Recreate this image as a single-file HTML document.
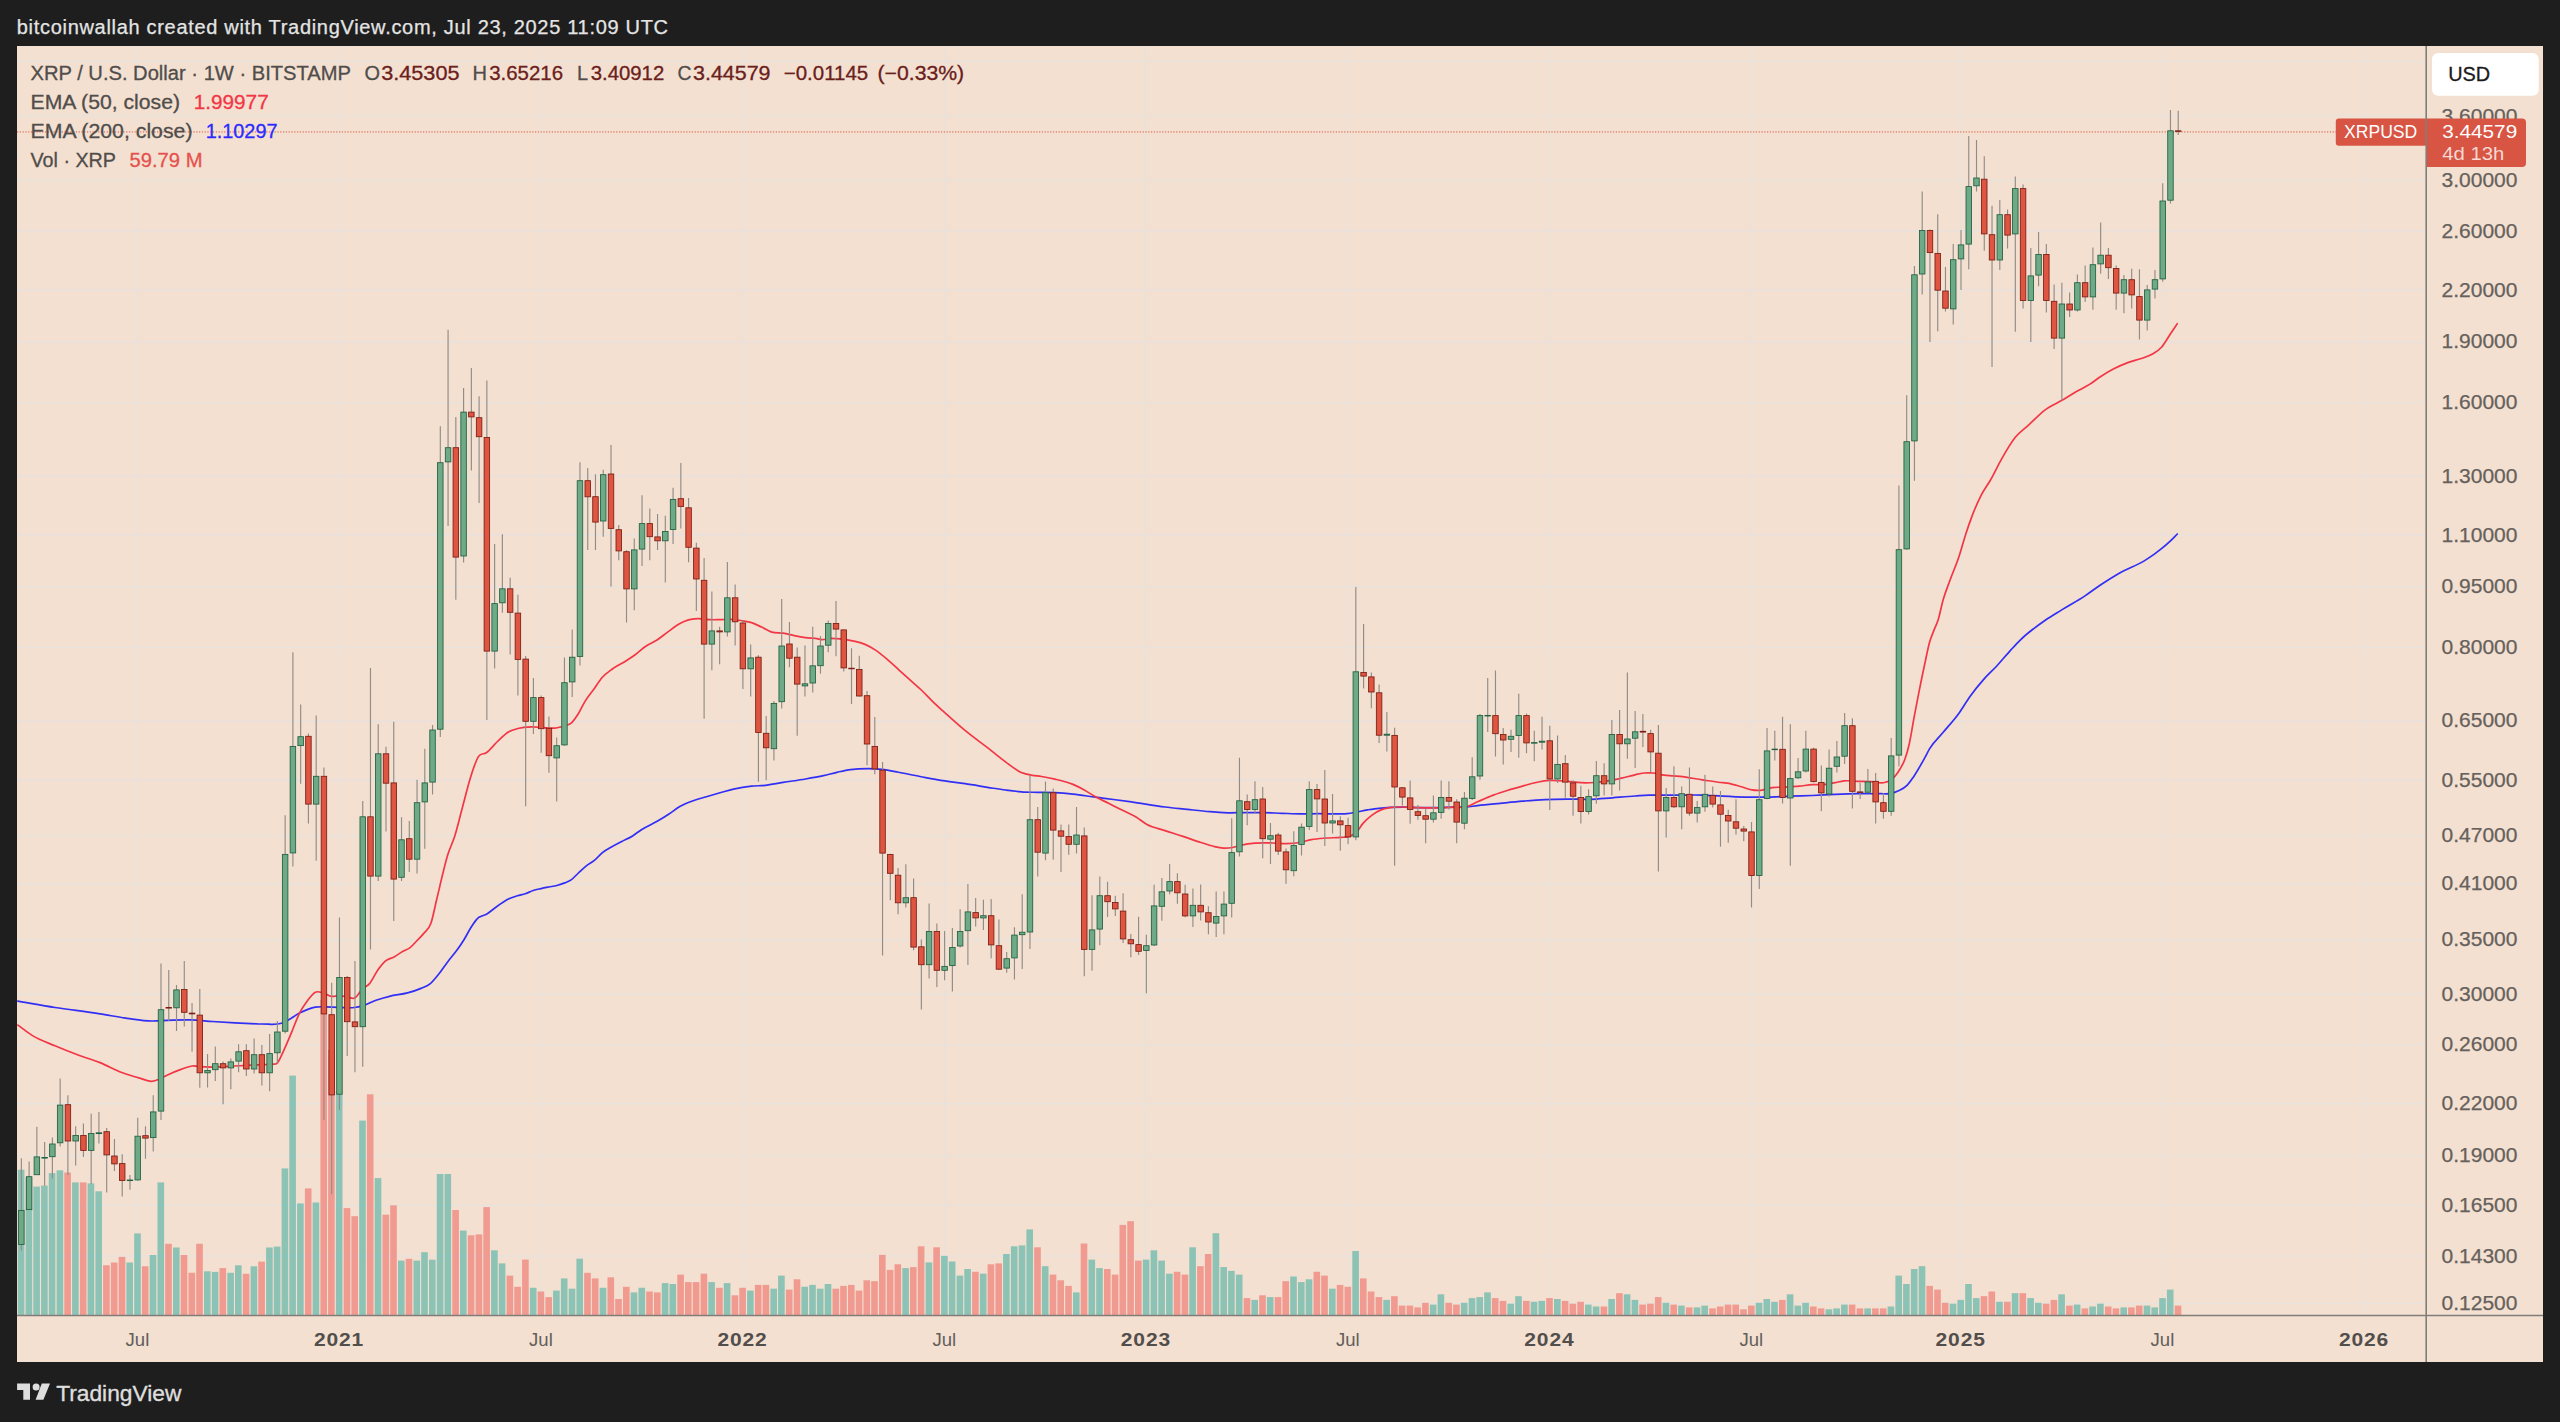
<!DOCTYPE html><html><head><meta charset="utf-8"><title>XRPUSD chart</title><style>html,body{margin:0;padding:0;background:#1e1e1e}body{width:2560px;height:1422px;position:relative;overflow:hidden}</style></head><body><svg width="2560" height="1422" viewBox="0 0 2560 1422" style="display:block;position:absolute;left:0;top:0">
<rect x="0" y="0" width="2560" height="1422" fill="#1e1e1e"/>
<rect x="17" y="46" width="2526" height="1316" fill="#f3e0d1"/>
<g stroke="#e9e2dc" stroke-width="1.5" fill="none">
<path d="M17 61.4H2426.2"/>
<path d="M17 115.6H2426.2"/>
<path d="M17 180.5H2426.2"/>
<path d="M17 231.0H2426.2"/>
<path d="M17 290.1H2426.2"/>
<path d="M17 341.9H2426.2"/>
<path d="M17 402.6H2426.2"/>
<path d="M17 476.0H2426.2"/>
<path d="M17 535.0H2426.2"/>
<path d="M17 586.8H2426.2"/>
<path d="M17 647.6H2426.2"/>
<path d="M17 720.9H2426.2"/>
<path d="M17 780.0H2426.2"/>
<path d="M17 835.5H2426.2"/>
<path d="M17 883.8H2426.2"/>
<path d="M17 939.7H2426.2"/>
<path d="M17 994.2H2426.2"/>
<path d="M17 1044.8H2426.2"/>
<path d="M17 1103.8H2426.2"/>
<path d="M17 1155.6H2426.2"/>
<path d="M17 1205.5H2426.2"/>
<path d="M17 1256.0H2426.2"/>
<path d="M17 1303.6H2426.2"/>
<path d="M137.5 46V1315.5"/>
<path d="M339.2 46V1315.5"/>
<path d="M540.9 46V1315.5"/>
<path d="M742.6 46V1315.5"/>
<path d="M944.4 46V1315.5"/>
<path d="M1146.1 46V1315.5"/>
<path d="M1347.8 46V1315.5"/>
<path d="M1549.5 46V1315.5"/>
<path d="M1751.3 46V1315.5"/>
<path d="M1960.7 46V1315.5"/>
<path d="M2162.5 46V1315.5"/>
<path d="M2364.2 46V1315.5"/>
</g>
<g>
<rect x="17.8" y="1169.7" width="6.6" height="145.3" fill="rgba(38,166,154,0.5)"/>
<rect x="25.6" y="1177.2" width="6.6" height="137.8" fill="rgba(38,166,154,0.5)"/>
<rect x="33.3" y="1186.6" width="6.6" height="128.4" fill="rgba(38,166,154,0.5)"/>
<rect x="41.1" y="1185.6" width="6.6" height="129.4" fill="rgba(38,166,154,0.5)"/>
<rect x="48.8" y="1173.1" width="6.6" height="141.9" fill="rgba(38,166,154,0.5)"/>
<rect x="56.6" y="1170.3" width="6.6" height="144.7" fill="rgba(38,166,154,0.5)"/>
<rect x="64.3" y="1172.5" width="6.6" height="142.5" fill="rgba(239,83,80,0.5)"/>
<rect x="72.1" y="1182.4" width="6.6" height="132.6" fill="rgba(38,166,154,0.5)"/>
<rect x="79.9" y="1182.4" width="6.6" height="132.6" fill="rgba(239,83,80,0.5)"/>
<rect x="87.6" y="1183.4" width="6.6" height="131.6" fill="rgba(38,166,154,0.5)"/>
<rect x="95.4" y="1191.3" width="6.6" height="123.7" fill="rgba(38,166,154,0.5)"/>
<rect x="103.1" y="1265.3" width="6.6" height="49.7" fill="rgba(239,83,80,0.5)"/>
<rect x="110.9" y="1262.5" width="6.6" height="52.5" fill="rgba(239,83,80,0.5)"/>
<rect x="118.7" y="1256.9" width="6.6" height="58.1" fill="rgba(239,83,80,0.5)"/>
<rect x="126.4" y="1262.5" width="6.6" height="52.5" fill="rgba(38,166,154,0.5)"/>
<rect x="134.2" y="1233.4" width="6.6" height="81.6" fill="rgba(38,166,154,0.5)"/>
<rect x="141.9" y="1266.3" width="6.6" height="48.7" fill="rgba(239,83,80,0.5)"/>
<rect x="149.7" y="1255.0" width="6.6" height="60.0" fill="rgba(38,166,154,0.5)"/>
<rect x="157.5" y="1182.4" width="6.6" height="132.6" fill="rgba(38,166,154,0.5)"/>
<rect x="165.2" y="1243.8" width="6.6" height="71.2" fill="rgba(239,83,80,0.5)"/>
<rect x="173.0" y="1247.5" width="6.6" height="67.5" fill="rgba(38,166,154,0.5)"/>
<rect x="180.7" y="1255.0" width="6.6" height="60.0" fill="rgba(239,83,80,0.5)"/>
<rect x="188.5" y="1272.8" width="6.6" height="42.2" fill="rgba(239,83,80,0.5)"/>
<rect x="196.2" y="1243.8" width="6.6" height="71.2" fill="rgba(239,83,80,0.5)"/>
<rect x="204.0" y="1271.3" width="6.6" height="43.7" fill="rgba(38,166,154,0.5)"/>
<rect x="211.8" y="1271.9" width="6.6" height="43.1" fill="rgba(38,166,154,0.5)"/>
<rect x="219.5" y="1268.1" width="6.6" height="46.9" fill="rgba(239,83,80,0.5)"/>
<rect x="227.3" y="1272.8" width="6.6" height="42.2" fill="rgba(38,166,154,0.5)"/>
<rect x="235.0" y="1265.3" width="6.6" height="49.7" fill="rgba(38,166,154,0.5)"/>
<rect x="242.8" y="1273.8" width="6.6" height="41.2" fill="rgba(239,83,80,0.5)"/>
<rect x="250.6" y="1266.3" width="6.6" height="48.7" fill="rgba(38,166,154,0.5)"/>
<rect x="258.3" y="1261.6" width="6.6" height="53.4" fill="rgba(239,83,80,0.5)"/>
<rect x="266.1" y="1247.5" width="6.6" height="67.5" fill="rgba(38,166,154,0.5)"/>
<rect x="273.8" y="1246.6" width="6.6" height="68.4" fill="rgba(38,166,154,0.5)"/>
<rect x="281.6" y="1168.4" width="6.6" height="146.6" fill="rgba(38,166,154,0.5)"/>
<rect x="289.3" y="1075.6" width="6.6" height="239.4" fill="rgba(38,166,154,0.5)"/>
<rect x="297.1" y="1203.4" width="6.6" height="111.6" fill="rgba(38,166,154,0.5)"/>
<rect x="304.9" y="1188.4" width="6.6" height="126.6" fill="rgba(239,83,80,0.5)"/>
<rect x="312.6" y="1202.5" width="6.6" height="112.5" fill="rgba(38,166,154,0.5)"/>
<rect x="320.4" y="1000.0" width="6.6" height="315.0" fill="rgba(239,83,80,0.5)"/>
<rect x="328.1" y="1050.0" width="6.6" height="265.0" fill="rgba(239,83,80,0.5)"/>
<rect x="335.9" y="1091.0" width="6.6" height="224.0" fill="rgba(38,166,154,0.5)"/>
<rect x="343.7" y="1208.1" width="6.6" height="106.9" fill="rgba(239,83,80,0.5)"/>
<rect x="351.4" y="1216.2" width="6.6" height="98.8" fill="rgba(239,83,80,0.5)"/>
<rect x="359.2" y="1120.6" width="6.6" height="194.4" fill="rgba(38,166,154,0.5)"/>
<rect x="366.9" y="1094.3" width="6.6" height="220.7" fill="rgba(239,83,80,0.5)"/>
<rect x="374.7" y="1178.1" width="6.6" height="136.9" fill="rgba(38,166,154,0.5)"/>
<rect x="382.5" y="1214.7" width="6.6" height="100.3" fill="rgba(239,83,80,0.5)"/>
<rect x="390.2" y="1205.3" width="6.6" height="109.7" fill="rgba(239,83,80,0.5)"/>
<rect x="398.0" y="1260.6" width="6.6" height="54.4" fill="rgba(38,166,154,0.5)"/>
<rect x="405.7" y="1258.8" width="6.6" height="56.2" fill="rgba(239,83,80,0.5)"/>
<rect x="413.5" y="1260.6" width="6.6" height="54.4" fill="rgba(38,166,154,0.5)"/>
<rect x="421.2" y="1252.2" width="6.6" height="62.8" fill="rgba(38,166,154,0.5)"/>
<rect x="429.0" y="1259.7" width="6.6" height="55.3" fill="rgba(38,166,154,0.5)"/>
<rect x="436.8" y="1174.0" width="6.6" height="141.0" fill="rgba(38,166,154,0.5)"/>
<rect x="444.5" y="1174.0" width="6.6" height="141.0" fill="rgba(38,166,154,0.5)"/>
<rect x="452.3" y="1210.0" width="6.6" height="105.0" fill="rgba(239,83,80,0.5)"/>
<rect x="460.0" y="1230.6" width="6.6" height="84.4" fill="rgba(38,166,154,0.5)"/>
<rect x="467.8" y="1235.3" width="6.6" height="79.7" fill="rgba(239,83,80,0.5)"/>
<rect x="475.6" y="1234.4" width="6.6" height="80.6" fill="rgba(239,83,80,0.5)"/>
<rect x="483.3" y="1207.1" width="6.6" height="107.9" fill="rgba(239,83,80,0.5)"/>
<rect x="491.1" y="1250.3" width="6.6" height="64.7" fill="rgba(38,166,154,0.5)"/>
<rect x="498.8" y="1263.4" width="6.6" height="51.6" fill="rgba(38,166,154,0.5)"/>
<rect x="506.6" y="1275.6" width="6.6" height="39.4" fill="rgba(239,83,80,0.5)"/>
<rect x="514.3" y="1286.8" width="6.6" height="28.2" fill="rgba(239,83,80,0.5)"/>
<rect x="522.1" y="1259.6" width="6.6" height="55.4" fill="rgba(239,83,80,0.5)"/>
<rect x="529.9" y="1287.8" width="6.6" height="27.2" fill="rgba(38,166,154,0.5)"/>
<rect x="537.6" y="1291.5" width="6.6" height="23.5" fill="rgba(239,83,80,0.5)"/>
<rect x="545.4" y="1297.1" width="6.6" height="17.9" fill="rgba(239,83,80,0.5)"/>
<rect x="553.1" y="1290.6" width="6.6" height="24.4" fill="rgba(38,166,154,0.5)"/>
<rect x="560.9" y="1278.4" width="6.6" height="36.6" fill="rgba(38,166,154,0.5)"/>
<rect x="568.7" y="1288.7" width="6.6" height="26.3" fill="rgba(38,166,154,0.5)"/>
<rect x="576.4" y="1258.7" width="6.6" height="56.3" fill="rgba(38,166,154,0.5)"/>
<rect x="584.2" y="1272.8" width="6.6" height="42.2" fill="rgba(239,83,80,0.5)"/>
<rect x="591.9" y="1278.4" width="6.6" height="36.6" fill="rgba(239,83,80,0.5)"/>
<rect x="599.7" y="1287.8" width="6.6" height="27.2" fill="rgba(38,166,154,0.5)"/>
<rect x="607.5" y="1277.3" width="6.6" height="37.7" fill="rgba(239,83,80,0.5)"/>
<rect x="615.2" y="1299.0" width="6.6" height="16.0" fill="rgba(239,83,80,0.5)"/>
<rect x="623.0" y="1286.8" width="6.6" height="28.2" fill="rgba(239,83,80,0.5)"/>
<rect x="630.7" y="1292.4" width="6.6" height="22.6" fill="rgba(38,166,154,0.5)"/>
<rect x="638.5" y="1287.8" width="6.6" height="27.2" fill="rgba(38,166,154,0.5)"/>
<rect x="646.2" y="1291.5" width="6.6" height="23.5" fill="rgba(239,83,80,0.5)"/>
<rect x="654.0" y="1292.4" width="6.6" height="22.6" fill="rgba(239,83,80,0.5)"/>
<rect x="661.8" y="1283.1" width="6.6" height="31.9" fill="rgba(38,166,154,0.5)"/>
<rect x="669.5" y="1284.0" width="6.6" height="31.0" fill="rgba(38,166,154,0.5)"/>
<rect x="677.3" y="1274.6" width="6.6" height="40.4" fill="rgba(239,83,80,0.5)"/>
<rect x="685.0" y="1282.1" width="6.6" height="32.9" fill="rgba(239,83,80,0.5)"/>
<rect x="692.8" y="1282.1" width="6.6" height="32.9" fill="rgba(239,83,80,0.5)"/>
<rect x="700.6" y="1273.7" width="6.6" height="41.3" fill="rgba(239,83,80,0.5)"/>
<rect x="708.3" y="1282.1" width="6.6" height="32.9" fill="rgba(38,166,154,0.5)"/>
<rect x="716.1" y="1287.8" width="6.6" height="27.2" fill="rgba(239,83,80,0.5)"/>
<rect x="723.8" y="1283.1" width="6.6" height="31.9" fill="rgba(38,166,154,0.5)"/>
<rect x="731.6" y="1295.3" width="6.6" height="19.7" fill="rgba(239,83,80,0.5)"/>
<rect x="739.3" y="1287.8" width="6.6" height="27.2" fill="rgba(239,83,80,0.5)"/>
<rect x="747.1" y="1290.6" width="6.6" height="24.4" fill="rgba(38,166,154,0.5)"/>
<rect x="754.9" y="1284.9" width="6.6" height="30.1" fill="rgba(239,83,80,0.5)"/>
<rect x="762.6" y="1284.9" width="6.6" height="30.1" fill="rgba(239,83,80,0.5)"/>
<rect x="770.4" y="1288.7" width="6.6" height="26.3" fill="rgba(38,166,154,0.5)"/>
<rect x="778.1" y="1275.6" width="6.6" height="39.4" fill="rgba(38,166,154,0.5)"/>
<rect x="785.9" y="1289.6" width="6.6" height="25.4" fill="rgba(239,83,80,0.5)"/>
<rect x="793.7" y="1279.3" width="6.6" height="35.7" fill="rgba(239,83,80,0.5)"/>
<rect x="801.4" y="1286.8" width="6.6" height="28.2" fill="rgba(38,166,154,0.5)"/>
<rect x="809.2" y="1284.9" width="6.6" height="30.1" fill="rgba(38,166,154,0.5)"/>
<rect x="816.9" y="1288.7" width="6.6" height="26.3" fill="rgba(38,166,154,0.5)"/>
<rect x="824.7" y="1284.0" width="6.6" height="31.0" fill="rgba(38,166,154,0.5)"/>
<rect x="832.5" y="1288.7" width="6.6" height="26.3" fill="rgba(239,83,80,0.5)"/>
<rect x="840.2" y="1285.9" width="6.6" height="29.1" fill="rgba(239,83,80,0.5)"/>
<rect x="848.0" y="1284.9" width="6.6" height="30.1" fill="rgba(239,83,80,0.5)"/>
<rect x="855.7" y="1290.6" width="6.6" height="24.4" fill="rgba(239,83,80,0.5)"/>
<rect x="863.5" y="1280.3" width="6.6" height="34.7" fill="rgba(239,83,80,0.5)"/>
<rect x="871.2" y="1281.2" width="6.6" height="33.8" fill="rgba(239,83,80,0.5)"/>
<rect x="879.0" y="1254.9" width="6.6" height="60.1" fill="rgba(239,83,80,0.5)"/>
<rect x="886.8" y="1269.9" width="6.6" height="45.1" fill="rgba(239,83,80,0.5)"/>
<rect x="894.5" y="1264.3" width="6.6" height="50.7" fill="rgba(239,83,80,0.5)"/>
<rect x="902.3" y="1268.1" width="6.6" height="46.9" fill="rgba(38,166,154,0.5)"/>
<rect x="910.0" y="1267.1" width="6.6" height="47.9" fill="rgba(239,83,80,0.5)"/>
<rect x="917.8" y="1246.3" width="6.6" height="68.7" fill="rgba(239,83,80,0.5)"/>
<rect x="925.6" y="1262.4" width="6.6" height="52.6" fill="rgba(38,166,154,0.5)"/>
<rect x="933.3" y="1247.3" width="6.6" height="67.7" fill="rgba(239,83,80,0.5)"/>
<rect x="941.1" y="1255.9" width="6.6" height="59.1" fill="rgba(38,166,154,0.5)"/>
<rect x="948.8" y="1261.5" width="6.6" height="53.5" fill="rgba(38,166,154,0.5)"/>
<rect x="956.6" y="1275.6" width="6.6" height="39.4" fill="rgba(38,166,154,0.5)"/>
<rect x="964.3" y="1269.0" width="6.6" height="46.0" fill="rgba(38,166,154,0.5)"/>
<rect x="972.1" y="1271.8" width="6.6" height="43.2" fill="rgba(239,83,80,0.5)"/>
<rect x="979.9" y="1273.7" width="6.6" height="41.3" fill="rgba(38,166,154,0.5)"/>
<rect x="987.6" y="1264.3" width="6.6" height="50.7" fill="rgba(239,83,80,0.5)"/>
<rect x="995.4" y="1263.4" width="6.6" height="51.6" fill="rgba(239,83,80,0.5)"/>
<rect x="1003.1" y="1254.0" width="6.6" height="61.0" fill="rgba(38,166,154,0.5)"/>
<rect x="1010.9" y="1246.3" width="6.6" height="68.7" fill="rgba(38,166,154,0.5)"/>
<rect x="1018.7" y="1245.4" width="6.6" height="69.6" fill="rgba(38,166,154,0.5)"/>
<rect x="1026.4" y="1229.4" width="6.6" height="85.6" fill="rgba(38,166,154,0.5)"/>
<rect x="1034.2" y="1247.3" width="6.6" height="67.7" fill="rgba(239,83,80,0.5)"/>
<rect x="1041.9" y="1266.2" width="6.6" height="48.8" fill="rgba(38,166,154,0.5)"/>
<rect x="1049.7" y="1274.6" width="6.6" height="40.4" fill="rgba(239,83,80,0.5)"/>
<rect x="1057.4" y="1280.3" width="6.6" height="34.7" fill="rgba(239,83,80,0.5)"/>
<rect x="1065.2" y="1285.9" width="6.6" height="29.1" fill="rgba(239,83,80,0.5)"/>
<rect x="1073.0" y="1292.4" width="6.6" height="22.6" fill="rgba(38,166,154,0.5)"/>
<rect x="1080.7" y="1243.5" width="6.6" height="71.5" fill="rgba(239,83,80,0.5)"/>
<rect x="1088.5" y="1259.6" width="6.6" height="55.4" fill="rgba(38,166,154,0.5)"/>
<rect x="1096.2" y="1268.1" width="6.6" height="46.9" fill="rgba(38,166,154,0.5)"/>
<rect x="1104.0" y="1269.0" width="6.6" height="46.0" fill="rgba(239,83,80,0.5)"/>
<rect x="1111.8" y="1274.6" width="6.6" height="40.4" fill="rgba(239,83,80,0.5)"/>
<rect x="1119.5" y="1224.9" width="6.6" height="90.1" fill="rgba(239,83,80,0.5)"/>
<rect x="1127.3" y="1221.2" width="6.6" height="93.8" fill="rgba(239,83,80,0.5)"/>
<rect x="1135.0" y="1260.6" width="6.6" height="54.4" fill="rgba(239,83,80,0.5)"/>
<rect x="1142.8" y="1259.6" width="6.6" height="55.4" fill="rgba(38,166,154,0.5)"/>
<rect x="1150.6" y="1250.3" width="6.6" height="64.7" fill="rgba(38,166,154,0.5)"/>
<rect x="1158.3" y="1260.6" width="6.6" height="54.4" fill="rgba(38,166,154,0.5)"/>
<rect x="1166.1" y="1273.7" width="6.6" height="41.3" fill="rgba(38,166,154,0.5)"/>
<rect x="1173.8" y="1271.8" width="6.6" height="43.2" fill="rgba(239,83,80,0.5)"/>
<rect x="1181.6" y="1274.6" width="6.6" height="40.4" fill="rgba(239,83,80,0.5)"/>
<rect x="1189.3" y="1247.3" width="6.6" height="67.7" fill="rgba(38,166,154,0.5)"/>
<rect x="1197.1" y="1266.2" width="6.6" height="48.8" fill="rgba(239,83,80,0.5)"/>
<rect x="1204.9" y="1254.0" width="6.6" height="61.0" fill="rgba(239,83,80,0.5)"/>
<rect x="1212.6" y="1233.2" width="6.6" height="81.8" fill="rgba(38,166,154,0.5)"/>
<rect x="1220.4" y="1267.1" width="6.6" height="47.9" fill="rgba(38,166,154,0.5)"/>
<rect x="1228.1" y="1270.9" width="6.6" height="44.1" fill="rgba(38,166,154,0.5)"/>
<rect x="1235.9" y="1274.6" width="6.6" height="40.4" fill="rgba(38,166,154,0.5)"/>
<rect x="1243.7" y="1298.1" width="6.6" height="16.9" fill="rgba(239,83,80,0.5)"/>
<rect x="1251.4" y="1299.9" width="6.6" height="15.1" fill="rgba(38,166,154,0.5)"/>
<rect x="1259.2" y="1295.3" width="6.6" height="19.7" fill="rgba(239,83,80,0.5)"/>
<rect x="1266.9" y="1297.1" width="6.6" height="17.9" fill="rgba(38,166,154,0.5)"/>
<rect x="1274.7" y="1297.1" width="6.6" height="17.9" fill="rgba(239,83,80,0.5)"/>
<rect x="1282.4" y="1281.2" width="6.6" height="33.8" fill="rgba(239,83,80,0.5)"/>
<rect x="1290.2" y="1276.5" width="6.6" height="38.5" fill="rgba(38,166,154,0.5)"/>
<rect x="1298.0" y="1282.1" width="6.6" height="32.9" fill="rgba(38,166,154,0.5)"/>
<rect x="1305.7" y="1279.3" width="6.6" height="35.7" fill="rgba(38,166,154,0.5)"/>
<rect x="1313.5" y="1271.8" width="6.6" height="43.2" fill="rgba(239,83,80,0.5)"/>
<rect x="1321.2" y="1275.6" width="6.6" height="39.4" fill="rgba(239,83,80,0.5)"/>
<rect x="1329.0" y="1288.7" width="6.6" height="26.3" fill="rgba(38,166,154,0.5)"/>
<rect x="1336.8" y="1284.9" width="6.6" height="30.1" fill="rgba(239,83,80,0.5)"/>
<rect x="1344.5" y="1286.8" width="6.6" height="28.2" fill="rgba(239,83,80,0.5)"/>
<rect x="1352.3" y="1251.0" width="6.6" height="64.0" fill="rgba(38,166,154,0.5)"/>
<rect x="1360.0" y="1278.4" width="6.6" height="36.6" fill="rgba(239,83,80,0.5)"/>
<rect x="1367.8" y="1291.5" width="6.6" height="23.5" fill="rgba(239,83,80,0.5)"/>
<rect x="1375.6" y="1297.1" width="6.6" height="17.9" fill="rgba(239,83,80,0.5)"/>
<rect x="1383.3" y="1299.9" width="6.6" height="15.1" fill="rgba(38,166,154,0.5)"/>
<rect x="1391.1" y="1296.2" width="6.6" height="18.8" fill="rgba(239,83,80,0.5)"/>
<rect x="1398.8" y="1305.6" width="6.6" height="9.4" fill="rgba(239,83,80,0.5)"/>
<rect x="1406.6" y="1305.6" width="6.6" height="9.4" fill="rgba(239,83,80,0.5)"/>
<rect x="1414.3" y="1307.4" width="6.6" height="7.6" fill="rgba(239,83,80,0.5)"/>
<rect x="1422.1" y="1302.8" width="6.6" height="12.2" fill="rgba(239,83,80,0.5)"/>
<rect x="1429.9" y="1304.6" width="6.6" height="10.4" fill="rgba(38,166,154,0.5)"/>
<rect x="1437.6" y="1294.3" width="6.6" height="20.7" fill="rgba(38,166,154,0.5)"/>
<rect x="1445.4" y="1302.8" width="6.6" height="12.2" fill="rgba(239,83,80,0.5)"/>
<rect x="1453.1" y="1304.6" width="6.6" height="10.4" fill="rgba(239,83,80,0.5)"/>
<rect x="1460.9" y="1302.8" width="6.6" height="12.2" fill="rgba(38,166,154,0.5)"/>
<rect x="1468.7" y="1298.1" width="6.6" height="16.9" fill="rgba(38,166,154,0.5)"/>
<rect x="1476.4" y="1297.1" width="6.6" height="17.9" fill="rgba(38,166,154,0.5)"/>
<rect x="1484.2" y="1292.4" width="6.6" height="22.6" fill="rgba(38,166,154,0.5)"/>
<rect x="1491.9" y="1298.1" width="6.6" height="16.9" fill="rgba(239,83,80,0.5)"/>
<rect x="1499.7" y="1300.9" width="6.6" height="14.1" fill="rgba(239,83,80,0.5)"/>
<rect x="1507.4" y="1303.7" width="6.6" height="11.3" fill="rgba(38,166,154,0.5)"/>
<rect x="1515.2" y="1296.2" width="6.6" height="18.8" fill="rgba(38,166,154,0.5)"/>
<rect x="1523.0" y="1300.9" width="6.6" height="14.1" fill="rgba(239,83,80,0.5)"/>
<rect x="1530.7" y="1301.8" width="6.6" height="13.2" fill="rgba(38,166,154,0.5)"/>
<rect x="1538.5" y="1300.9" width="6.6" height="14.1" fill="rgba(38,166,154,0.5)"/>
<rect x="1546.2" y="1298.1" width="6.6" height="16.9" fill="rgba(239,83,80,0.5)"/>
<rect x="1554.0" y="1299.0" width="6.6" height="16.0" fill="rgba(38,166,154,0.5)"/>
<rect x="1561.8" y="1300.9" width="6.6" height="14.1" fill="rgba(239,83,80,0.5)"/>
<rect x="1569.5" y="1303.7" width="6.6" height="11.3" fill="rgba(239,83,80,0.5)"/>
<rect x="1577.3" y="1301.8" width="6.6" height="13.2" fill="rgba(239,83,80,0.5)"/>
<rect x="1585.0" y="1304.6" width="6.6" height="10.4" fill="rgba(38,166,154,0.5)"/>
<rect x="1592.8" y="1306.5" width="6.6" height="8.5" fill="rgba(38,166,154,0.5)"/>
<rect x="1600.6" y="1306.5" width="6.6" height="8.5" fill="rgba(239,83,80,0.5)"/>
<rect x="1608.3" y="1299.0" width="6.6" height="16.0" fill="rgba(38,166,154,0.5)"/>
<rect x="1616.1" y="1293.2" width="6.6" height="21.8" fill="rgba(239,83,80,0.5)"/>
<rect x="1623.8" y="1294.3" width="6.6" height="20.7" fill="rgba(38,166,154,0.5)"/>
<rect x="1631.6" y="1299.9" width="6.6" height="15.1" fill="rgba(38,166,154,0.5)"/>
<rect x="1639.3" y="1304.6" width="6.6" height="10.4" fill="rgba(239,83,80,0.5)"/>
<rect x="1647.1" y="1303.7" width="6.6" height="11.3" fill="rgba(239,83,80,0.5)"/>
<rect x="1654.9" y="1297.1" width="6.6" height="17.9" fill="rgba(239,83,80,0.5)"/>
<rect x="1662.6" y="1302.8" width="6.6" height="12.2" fill="rgba(38,166,154,0.5)"/>
<rect x="1670.4" y="1304.6" width="6.6" height="10.4" fill="rgba(239,83,80,0.5)"/>
<rect x="1678.1" y="1305.6" width="6.6" height="9.4" fill="rgba(38,166,154,0.5)"/>
<rect x="1685.9" y="1307.4" width="6.6" height="7.6" fill="rgba(239,83,80,0.5)"/>
<rect x="1693.7" y="1307.4" width="6.6" height="7.6" fill="rgba(38,166,154,0.5)"/>
<rect x="1701.4" y="1305.6" width="6.6" height="9.4" fill="rgba(38,166,154,0.5)"/>
<rect x="1709.2" y="1308.4" width="6.6" height="6.6" fill="rgba(239,83,80,0.5)"/>
<rect x="1716.9" y="1306.5" width="6.6" height="8.5" fill="rgba(239,83,80,0.5)"/>
<rect x="1724.7" y="1304.6" width="6.6" height="10.4" fill="rgba(239,83,80,0.5)"/>
<rect x="1732.4" y="1304.6" width="6.6" height="10.4" fill="rgba(239,83,80,0.5)"/>
<rect x="1740.2" y="1309.3" width="6.6" height="5.7" fill="rgba(239,83,80,0.5)"/>
<rect x="1748.0" y="1305.6" width="6.6" height="9.4" fill="rgba(239,83,80,0.5)"/>
<rect x="1755.7" y="1302.8" width="6.6" height="12.2" fill="rgba(38,166,154,0.5)"/>
<rect x="1763.5" y="1299.0" width="6.6" height="16.0" fill="rgba(38,166,154,0.5)"/>
<rect x="1771.2" y="1301.8" width="6.6" height="13.2" fill="rgba(38,166,154,0.5)"/>
<rect x="1779.0" y="1299.9" width="6.6" height="15.1" fill="rgba(239,83,80,0.5)"/>
<rect x="1786.8" y="1294.3" width="6.6" height="20.7" fill="rgba(38,166,154,0.5)"/>
<rect x="1794.5" y="1305.6" width="6.6" height="9.4" fill="rgba(38,166,154,0.5)"/>
<rect x="1802.3" y="1302.8" width="6.6" height="12.2" fill="rgba(38,166,154,0.5)"/>
<rect x="1810.0" y="1306.5" width="6.6" height="8.5" fill="rgba(239,83,80,0.5)"/>
<rect x="1817.8" y="1308.4" width="6.6" height="6.6" fill="rgba(239,83,80,0.5)"/>
<rect x="1825.6" y="1309.3" width="6.6" height="5.7" fill="rgba(38,166,154,0.5)"/>
<rect x="1833.3" y="1308.4" width="6.6" height="6.6" fill="rgba(38,166,154,0.5)"/>
<rect x="1841.1" y="1304.6" width="6.6" height="10.4" fill="rgba(38,166,154,0.5)"/>
<rect x="1848.8" y="1304.6" width="6.6" height="10.4" fill="rgba(239,83,80,0.5)"/>
<rect x="1856.6" y="1308.4" width="6.6" height="6.6" fill="rgba(239,83,80,0.5)"/>
<rect x="1864.3" y="1308.4" width="6.6" height="6.6" fill="rgba(38,166,154,0.5)"/>
<rect x="1872.1" y="1308.4" width="6.6" height="6.6" fill="rgba(239,83,80,0.5)"/>
<rect x="1879.9" y="1308.4" width="6.6" height="6.6" fill="rgba(239,83,80,0.5)"/>
<rect x="1887.6" y="1306.5" width="6.6" height="8.5" fill="rgba(38,166,154,0.5)"/>
<rect x="1895.4" y="1275.6" width="6.6" height="39.4" fill="rgba(38,166,154,0.5)"/>
<rect x="1903.1" y="1284.0" width="6.6" height="31.0" fill="rgba(38,166,154,0.5)"/>
<rect x="1910.9" y="1269.0" width="6.6" height="46.0" fill="rgba(38,166,154,0.5)"/>
<rect x="1918.7" y="1266.2" width="6.6" height="48.8" fill="rgba(38,166,154,0.5)"/>
<rect x="1926.4" y="1285.9" width="6.6" height="29.1" fill="rgba(239,83,80,0.5)"/>
<rect x="1934.2" y="1289.6" width="6.6" height="25.4" fill="rgba(239,83,80,0.5)"/>
<rect x="1941.9" y="1302.8" width="6.6" height="12.2" fill="rgba(239,83,80,0.5)"/>
<rect x="1949.7" y="1303.7" width="6.6" height="11.3" fill="rgba(38,166,154,0.5)"/>
<rect x="1957.4" y="1299.9" width="6.6" height="15.1" fill="rgba(38,166,154,0.5)"/>
<rect x="1965.2" y="1284.0" width="6.6" height="31.0" fill="rgba(38,166,154,0.5)"/>
<rect x="1973.0" y="1298.1" width="6.6" height="16.9" fill="rgba(38,166,154,0.5)"/>
<rect x="1980.7" y="1296.2" width="6.6" height="18.8" fill="rgba(239,83,80,0.5)"/>
<rect x="1988.5" y="1291.5" width="6.6" height="23.5" fill="rgba(239,83,80,0.5)"/>
<rect x="1996.2" y="1301.8" width="6.6" height="13.2" fill="rgba(38,166,154,0.5)"/>
<rect x="2004.0" y="1301.8" width="6.6" height="13.2" fill="rgba(239,83,80,0.5)"/>
<rect x="2011.8" y="1293.2" width="6.6" height="21.8" fill="rgba(38,166,154,0.5)"/>
<rect x="2019.5" y="1293.2" width="6.6" height="21.8" fill="rgba(239,83,80,0.5)"/>
<rect x="2027.3" y="1298.1" width="6.6" height="16.9" fill="rgba(38,166,154,0.5)"/>
<rect x="2035.0" y="1302.8" width="6.6" height="12.2" fill="rgba(38,166,154,0.5)"/>
<rect x="2042.8" y="1303.7" width="6.6" height="11.3" fill="rgba(239,83,80,0.5)"/>
<rect x="2050.6" y="1299.9" width="6.6" height="15.1" fill="rgba(239,83,80,0.5)"/>
<rect x="2058.3" y="1294.3" width="6.6" height="20.7" fill="rgba(38,166,154,0.5)"/>
<rect x="2066.1" y="1305.6" width="6.6" height="9.4" fill="rgba(239,83,80,0.5)"/>
<rect x="2073.8" y="1304.6" width="6.6" height="10.4" fill="rgba(38,166,154,0.5)"/>
<rect x="2081.6" y="1308.4" width="6.6" height="6.6" fill="rgba(239,83,80,0.5)"/>
<rect x="2089.3" y="1306.5" width="6.6" height="8.5" fill="rgba(38,166,154,0.5)"/>
<rect x="2097.1" y="1303.7" width="6.6" height="11.3" fill="rgba(38,166,154,0.5)"/>
<rect x="2104.9" y="1306.5" width="6.6" height="8.5" fill="rgba(239,83,80,0.5)"/>
<rect x="2112.6" y="1308.4" width="6.6" height="6.6" fill="rgba(239,83,80,0.5)"/>
<rect x="2120.4" y="1307.4" width="6.6" height="7.6" fill="rgba(38,166,154,0.5)"/>
<rect x="2128.1" y="1307.4" width="6.6" height="7.6" fill="rgba(239,83,80,0.5)"/>
<rect x="2135.9" y="1305.6" width="6.6" height="9.4" fill="rgba(239,83,80,0.5)"/>
<rect x="2143.7" y="1305.6" width="6.6" height="9.4" fill="rgba(38,166,154,0.5)"/>
<rect x="2151.4" y="1307.4" width="6.6" height="7.6" fill="rgba(38,166,154,0.5)"/>
<rect x="2159.2" y="1298.1" width="6.6" height="16.9" fill="rgba(38,166,154,0.5)"/>
<rect x="2166.9" y="1289.6" width="6.6" height="25.4" fill="rgba(38,166,154,0.5)"/>
<rect x="2174.7" y="1305.6" width="6.6" height="9.4" fill="rgba(239,83,80,0.5)"/>
</g>
<path d="M17.9 1001.2C30.3 1003.3 42.6 1005.6 55.0 1007.5C70.0 1009.8 85.0 1011.4 100.0 1013.8C109.0 1015.2 118.0 1017.1 127.0 1018.3C135.3 1019.4 143.5 1020.9 151.8 1021.0C157.0 1021.1 162.3 1020.5 167.5 1020.3C175.0 1020.0 182.5 1019.7 190.0 1019.9C197.5 1020.1 205.0 1021.0 212.5 1021.5C220.0 1022.0 227.5 1022.4 235.0 1022.8C242.5 1023.2 250.0 1023.6 257.5 1023.9C261.3 1024.0 265.0 1024.0 268.8 1024.2C270.0 1024.3 271.3 1024.4 272.5 1024.4C275.5 1024.4 278.5 1024.3 281.5 1023.3C283.8 1022.5 286.0 1021.1 288.3 1019.9C292.0 1017.9 295.8 1015.0 299.5 1013.1C304.8 1010.4 310.0 1007.9 315.3 1007.1C318.3 1006.6 321.3 1006.8 324.3 1006.8C329.5 1006.8 334.8 1007.4 340.0 1007.5C344.9 1007.6 349.7 1008.1 354.6 1007.5C357.2 1007.2 359.9 1006.6 362.5 1005.9C367.0 1004.6 371.5 1001.9 376.0 1000.3C380.5 998.7 385.0 997.4 389.5 996.3C395.5 994.8 401.5 994.5 407.5 992.9C412.0 991.7 416.5 990.4 421.0 988.4C424.0 987.1 427.0 986.3 430.0 983.9C433.0 981.5 436.0 977.5 439.0 973.8C442.0 970.0 445.0 965.3 448.0 961.4C451.0 957.5 454.0 954.3 457.0 950.1C459.3 947.0 461.5 943.7 463.8 940.0C466.0 936.4 468.3 931.8 470.5 928.3C473.1 924.2 475.8 919.5 478.4 917.7C478.9 917.3 479.5 917.1 480.0 916.8C482.3 915.6 484.6 915.2 486.9 913.9C489.5 912.4 492.2 909.9 494.8 908.0C499.7 904.5 504.6 900.9 509.5 898.6C512.1 897.4 514.8 896.5 517.4 895.7C520.0 894.9 522.7 894.6 525.3 893.7C527.9 892.8 530.6 891.4 533.2 890.5C535.8 889.7 538.4 889.2 541.0 888.6C543.6 888.0 546.3 887.5 548.9 887.0C551.5 886.5 554.2 886.2 556.8 885.5C559.4 884.8 562.1 884.0 564.7 882.9C566.8 882.0 569.0 881.4 571.1 879.9C573.5 878.2 576.0 875.3 578.4 873.0C581.0 870.6 583.7 867.9 586.3 865.8C589.1 863.6 591.9 862.6 594.7 860.2C597.2 858.1 599.6 854.9 602.1 852.8C605.4 850.1 608.6 848.6 611.9 846.7C615.2 844.8 618.5 843.2 621.8 841.5C625.4 839.6 629.0 838.1 632.6 835.9C635.5 834.1 638.5 831.6 641.4 829.7C646.7 826.3 651.9 824.4 657.2 821.3C661.1 819.0 665.1 816.6 669.0 814.0C672.6 811.6 676.2 808.7 679.8 806.6C684.7 803.7 689.7 802.0 694.6 800.2C698.5 798.8 702.5 797.8 706.4 796.7C710.9 795.4 715.5 794.1 720.0 792.8C724.5 791.6 729.0 790.2 733.5 789.2C739.5 787.9 745.5 786.9 751.5 786.2C756.0 785.7 760.5 785.8 765.0 785.3C771.0 784.7 777.0 783.3 783.0 782.4C790.5 781.2 798.0 780.3 805.5 779.0C811.5 778.0 817.5 777.0 823.5 775.7C828.0 774.7 832.5 773.3 837.0 772.3C841.5 771.3 846.0 770.2 850.5 769.6C856.4 768.8 862.4 768.6 868.3 768.6C872.8 768.6 877.3 768.8 881.8 769.3C887.0 769.9 892.3 771.0 897.5 772.0C905.0 773.4 912.5 775.1 920.0 776.5C927.5 777.9 935.0 779.4 942.5 780.6C950.0 781.8 957.5 782.6 965.0 783.7C972.5 784.8 980.0 786.1 987.5 787.3C993.5 788.2 999.5 789.2 1005.5 790.0C1010.8 790.7 1016.0 791.4 1021.3 791.8C1026.5 792.2 1031.8 792.2 1037.0 792.3C1043.0 792.5 1049.0 792.4 1055.0 792.7C1061.0 793.0 1067.0 793.5 1073.0 794.1C1080.5 794.9 1088.0 796.2 1095.5 797.2C1101.5 798.0 1107.5 798.7 1113.5 799.5C1119.5 800.3 1125.5 801.1 1131.5 801.9C1142.7 803.5 1153.8 805.6 1165.0 807.0C1172.5 807.9 1180.0 808.6 1187.5 809.4C1195.0 810.2 1202.5 811.1 1210.0 811.7C1216.0 812.2 1222.0 812.6 1228.0 812.8C1234.0 812.9 1240.0 812.6 1246.0 812.6C1252.0 812.6 1258.0 812.5 1264.0 812.6C1270.0 812.7 1276.0 813.1 1282.0 813.3C1288.0 813.5 1294.0 813.8 1300.0 813.9C1306.0 814.0 1312.0 813.7 1318.0 813.7C1324.0 813.7 1330.0 813.9 1336.0 813.9C1339.8 813.9 1343.5 814.1 1347.3 813.7C1350.3 813.4 1353.3 812.7 1356.3 812.1C1360.0 811.4 1363.8 810.5 1367.5 809.9C1371.3 809.3 1375.0 808.7 1378.8 808.3C1382.5 807.9 1386.3 807.6 1390.0 807.4C1394.5 807.2 1399.0 807.2 1403.5 807.2C1408.0 807.2 1412.5 807.5 1417.0 807.6C1422.2 807.7 1427.3 807.7 1432.5 807.7C1440.0 807.7 1447.5 807.3 1455.0 807.2C1458.8 807.1 1462.5 807.3 1466.3 807.0C1470.0 806.7 1473.8 806.0 1477.5 805.6C1485.0 804.7 1492.5 804.1 1500.0 803.4C1507.5 802.6 1515.0 801.7 1522.5 801.1C1530.0 800.5 1537.5 799.9 1545.0 799.6C1552.5 799.3 1560.0 799.2 1567.5 799.1C1575.0 799.0 1582.5 799.5 1590.0 799.3C1597.5 799.1 1605.0 798.3 1612.5 797.8C1620.0 797.2 1627.5 796.5 1635.0 796.0C1639.5 795.7 1644.0 795.2 1648.5 795.1C1653.0 795.0 1657.5 795.1 1662.0 795.1C1668.0 795.1 1674.0 795.1 1680.0 795.1C1687.5 795.1 1695.0 794.9 1702.5 795.1C1709.2 795.3 1715.8 795.9 1722.5 796.2C1730.0 796.6 1737.5 797.0 1745.0 797.1C1752.5 797.2 1760.0 797.2 1767.5 797.1C1775.0 797.0 1782.5 796.5 1790.0 796.2C1797.5 795.9 1805.0 795.8 1812.5 795.5C1820.0 795.2 1827.5 794.7 1835.0 794.4C1842.5 794.1 1850.0 793.8 1857.5 793.7C1865.0 793.6 1872.5 793.9 1880.0 793.7C1883.8 793.6 1887.5 794.2 1891.3 793.3C1893.5 792.8 1895.8 792.0 1898.0 791.0C1901.0 789.6 1904.0 788.5 1907.0 785.4C1909.3 783.1 1911.5 779.7 1913.8 776.4C1917.5 770.9 1921.3 764.1 1925.0 757.3C1926.5 754.6 1928.0 751.5 1929.5 748.9C1934.0 741.2 1938.5 738.0 1943.0 732.5C1948.3 726.1 1953.5 720.7 1958.8 713.4C1962.5 708.2 1966.3 701.7 1970.0 696.5C1974.5 690.2 1979.0 684.7 1983.5 679.6C1988.0 674.5 1992.5 670.6 1997.0 665.7C2001.5 660.8 2006.0 655.3 2010.5 650.4C2013.7 646.9 2016.8 643.4 2020.0 640.3C2028.5 631.9 2037.1 625.9 2045.6 620.0C2051.2 616.1 2056.9 612.9 2062.5 609.4C2070.0 604.8 2077.5 600.9 2085.0 595.9C2090.3 592.4 2095.5 588.2 2100.8 584.7C2106.8 580.7 2112.8 576.9 2118.8 573.4C2127.8 568.2 2136.8 565.7 2145.8 559.9C2151.0 556.6 2156.3 552.9 2161.5 548.6C2164.5 546.2 2167.5 543.6 2170.5 540.8C2172.8 538.7 2175.0 536.3 2177.3 534.0" fill="none" stroke="#322ff5" stroke-width="1.7" stroke-linejoin="round" stroke-linecap="round"/>
<path d="M17.9 1025.1C22.8 1028.6 27.6 1032.6 32.5 1035.6C40.0 1040.2 47.5 1042.6 55.0 1045.8C62.5 1049.0 70.0 1052.0 77.5 1054.8C85.0 1057.6 92.5 1059.6 100.0 1062.6C107.5 1065.6 115.0 1070.0 122.5 1072.8C128.5 1075.0 134.5 1076.7 140.5 1078.4C144.3 1079.4 148.0 1081.6 151.8 1081.3C154.0 1081.1 156.3 1080.3 158.5 1079.5C161.5 1078.4 164.5 1076.4 167.5 1075.0C172.0 1072.9 176.5 1071.0 181.0 1069.4C184.8 1068.1 188.5 1066.3 192.3 1066.0C195.3 1065.7 198.3 1066.5 201.3 1066.7C205.0 1066.9 208.8 1067.1 212.5 1067.1C220.0 1067.2 227.5 1066.4 235.0 1066.0C242.5 1065.6 250.0 1065.2 257.5 1064.9C261.3 1064.7 265.0 1064.6 268.8 1064.4C270.0 1064.3 271.3 1064.3 272.5 1064.2C274.0 1064.0 275.5 1064.6 277.0 1063.3C279.3 1061.3 281.5 1055.1 283.8 1050.3C286.4 1044.8 289.0 1038.5 291.6 1032.3C294.2 1026.1 296.9 1018.4 299.5 1013.1C302.1 1007.9 304.8 1004.3 307.4 1000.8C310.0 997.3 312.7 993.5 315.3 992.2C317.9 990.9 320.5 992.2 323.1 992.9C325.7 993.6 328.4 995.8 331.0 996.3C333.8 996.8 336.5 995.7 339.3 995.8C341.8 995.9 344.3 996.3 346.8 996.7C349.4 997.1 352.0 999.3 354.6 998.1C357.4 996.8 360.2 990.9 363.0 988.4C365.1 986.5 367.2 986.2 369.3 983.9C372.3 980.6 375.3 973.4 378.3 969.3C380.5 966.2 382.8 963.4 385.0 961.4C388.0 958.7 391.0 958.6 394.0 956.9C397.0 955.2 400.0 953.0 403.0 951.3C405.3 950.0 407.5 949.6 409.8 947.9C412.4 946.0 415.0 942.7 417.6 940.0C419.5 938.0 421.4 936.2 423.3 933.9C425.9 930.7 428.5 930.5 431.1 922.7C433.0 917.0 434.9 906.8 436.8 899.0C440.5 883.7 444.3 865.8 448.0 854.0C450.3 846.8 452.5 843.2 454.8 836.0C457.4 827.8 460.0 816.5 462.6 806.8C465.2 797.0 467.9 785.9 470.5 777.5C473.1 769.1 475.8 760.7 478.4 756.6C481.0 752.5 483.7 754.6 486.3 752.8C490.0 750.2 493.8 745.0 497.5 741.5C501.3 738.0 505.0 734.0 508.8 731.8C511.8 730.0 514.8 729.3 517.8 728.5C522.3 727.3 526.8 727.0 531.3 726.9C535.0 726.8 538.8 727.4 542.5 727.6C547.0 727.8 551.5 728.6 556.0 728.0C559.0 727.6 562.0 726.9 565.0 725.8C567.2 725.0 569.3 724.7 571.5 722.8C573.8 720.8 576.0 717.4 578.3 713.8C580.5 710.3 582.8 705.1 585.0 701.4C588.0 696.5 591.0 693.2 594.0 689.0C596.6 685.3 599.3 680.9 601.9 677.8C605.3 673.9 608.6 671.7 612.0 669.2C615.8 666.5 619.5 664.8 623.3 662.5C627.0 660.2 630.8 658.0 634.5 655.3C638.3 652.6 642.0 648.9 645.8 646.3C649.5 643.8 653.3 642.4 657.0 640.0C660.8 637.5 664.5 634.3 668.3 631.6C672.0 628.9 675.8 625.9 679.5 623.8C682.5 622.1 685.5 620.8 688.5 619.9C691.5 619.0 694.5 618.8 697.5 618.6C702.0 618.4 706.5 619.6 711.0 619.7C714.0 619.8 717.0 619.7 720.0 619.7C723.8 619.6 727.5 619.1 731.3 619.3C735.0 619.5 738.8 620.2 742.5 620.8C745.5 621.3 748.5 621.7 751.5 622.6C754.9 623.7 758.2 625.5 761.6 627.1C765.0 628.7 768.4 631.1 771.8 632.1C775.5 633.2 779.3 632.6 783.0 633.2C786.8 633.8 790.5 634.9 794.3 635.7C798.0 636.4 801.8 637.2 805.5 637.7C810.0 638.4 814.5 637.8 819.0 639.1C819.3 639.2 819.7 639.3 820.0 639.4C823.8 640.4 827.5 638.3 831.3 638.3C834.3 638.3 837.3 638.5 840.3 638.8C844.8 639.3 849.3 640.0 853.8 641.1C857.5 642.0 861.3 642.8 865.0 644.4C868.8 646.0 872.5 648.1 876.3 650.6C880.0 653.1 883.8 656.4 887.5 659.6C891.3 662.8 895.0 666.4 898.8 669.8C902.5 673.2 906.3 676.5 910.0 679.9C913.8 683.3 917.5 686.4 921.3 690.0C925.0 693.6 928.8 697.7 932.5 701.3C937.3 706.0 942.2 710.3 947.0 714.6C953.0 720.0 959.0 725.4 965.0 730.4C972.5 736.6 980.0 741.9 987.5 747.7C993.5 752.4 999.5 757.5 1005.5 761.9C1010.8 765.7 1016.0 770.2 1021.3 772.5C1025.0 774.1 1028.8 774.7 1032.5 775.4C1035.5 775.9 1038.5 776.0 1041.5 776.5C1046.0 777.2 1050.5 778.1 1055.0 779.2C1061.0 780.6 1067.0 781.9 1073.0 784.4C1076.8 786.0 1080.5 787.9 1084.3 790.0C1088.0 792.1 1091.8 794.7 1095.5 796.8C1100.0 799.3 1104.5 801.2 1109.0 803.5C1113.5 805.8 1118.0 808.0 1122.5 810.3C1127.0 812.5 1131.5 814.3 1136.0 817.0C1139.7 819.2 1143.3 822.5 1147.0 824.5C1153.0 827.8 1159.0 828.6 1165.0 830.6C1171.0 832.6 1177.0 834.4 1183.0 836.4C1189.0 838.4 1195.0 840.6 1201.0 842.5C1205.5 843.9 1210.0 845.6 1214.5 846.6C1217.5 847.3 1220.5 848.0 1223.5 848.1C1226.5 848.2 1229.5 848.0 1232.5 847.5C1235.5 847.0 1238.5 845.8 1241.5 845.2C1246.0 844.2 1250.5 843.6 1255.0 843.2C1261.0 842.7 1267.0 842.9 1273.0 843.0C1277.5 843.1 1282.0 843.7 1286.5 843.6C1291.0 843.5 1295.5 843.3 1300.0 842.5C1303.8 841.8 1307.5 840.3 1311.3 839.6C1316.5 838.6 1321.8 838.4 1327.0 838.0C1331.5 837.7 1336.0 837.7 1340.5 837.3C1343.5 837.1 1346.5 837.5 1349.5 836.4C1351.8 835.5 1354.0 834.6 1356.3 832.4C1358.5 830.2 1360.8 826.0 1363.0 823.4C1366.0 819.9 1369.0 817.4 1372.0 815.1C1375.0 812.9 1378.0 811.1 1381.0 809.9C1384.0 808.6 1387.0 808.1 1390.0 807.6C1394.5 806.8 1399.0 807.0 1403.5 807.0C1408.0 807.0 1412.5 807.5 1417.0 807.6C1422.2 807.8 1427.3 807.9 1432.5 807.9C1440.0 807.9 1447.5 807.5 1455.0 807.2C1458.8 807.1 1462.5 807.7 1466.3 806.8C1470.0 805.9 1473.8 803.4 1477.5 801.8C1482.8 799.5 1488.0 797.1 1493.3 795.1C1498.5 793.1 1503.8 791.5 1509.0 789.9C1513.5 788.5 1518.0 787.3 1522.5 786.1C1527.8 784.7 1533.0 783.0 1538.3 782.0C1542.0 781.3 1545.8 780.7 1549.5 780.4C1555.5 780.0 1561.5 780.8 1567.5 781.3C1572.0 781.7 1576.5 782.5 1581.0 782.7C1585.5 782.9 1590.0 782.8 1594.5 782.5C1599.0 782.2 1603.5 781.6 1608.0 780.9C1612.5 780.2 1617.0 779.2 1621.5 778.2C1626.0 777.2 1630.5 775.8 1635.0 774.8C1638.0 774.1 1641.0 773.3 1644.0 773.0C1647.0 772.7 1650.0 772.7 1653.0 773.0C1656.0 773.3 1659.0 774.3 1662.0 774.8C1668.0 775.8 1674.0 775.7 1680.0 776.4C1687.5 777.3 1695.0 778.7 1702.5 779.8C1708.5 780.7 1714.5 781.9 1720.5 782.5C1722.7 782.7 1724.8 782.8 1727.0 783.1C1731.5 783.7 1736.0 785.2 1740.5 786.5C1744.3 787.5 1748.0 789.3 1751.8 789.9C1754.8 790.4 1757.8 790.5 1760.8 790.3C1764.5 790.0 1768.3 788.1 1772.0 787.6C1776.5 786.9 1781.0 787.5 1785.5 787.2C1790.0 787.0 1794.5 786.5 1799.0 786.1C1803.5 785.7 1808.0 785.0 1812.5 784.7C1817.0 784.4 1821.5 784.8 1826.0 784.3C1829.0 783.9 1832.0 783.3 1835.0 782.7C1838.0 782.1 1841.0 781.2 1844.0 780.9C1848.5 780.4 1853.0 781.2 1857.5 781.3C1862.0 781.4 1866.5 781.4 1871.0 781.6C1875.5 781.8 1880.0 783.6 1884.5 782.5C1886.8 782.0 1889.0 781.5 1891.3 779.8C1892.8 778.7 1894.3 777.2 1895.8 775.3C1897.3 773.4 1898.8 771.1 1900.3 768.5C1901.8 765.9 1903.3 763.6 1904.8 759.5C1906.3 755.4 1907.8 750.5 1909.3 743.8C1910.8 737.0 1912.3 727.1 1913.8 719.0C1915.7 709.0 1917.5 699.2 1919.4 689.8C1921.3 680.4 1923.1 671.5 1925.0 662.8C1926.5 655.8 1928.0 648.0 1929.5 642.5C1931.0 637.0 1932.5 634.0 1934.0 630.1C1935.4 626.5 1936.7 624.3 1938.1 620.0C1939.8 614.6 1941.6 605.3 1943.3 599.3C1945.5 591.5 1947.8 586.4 1950.0 580.2C1953.0 571.9 1956.0 565.6 1959.0 556.5C1961.3 549.7 1963.5 541.0 1965.8 534.0C1968.0 527.1 1970.3 520.7 1972.5 514.9C1975.5 507.1 1978.5 500.4 1981.5 494.6C1984.5 488.8 1987.5 485.2 1990.5 480.0C1994.3 473.4 1998.0 465.2 2001.8 458.6C2006.3 450.7 2010.8 442.9 2015.3 437.3C2019.8 431.7 2024.3 429.1 2028.8 424.9C2034.0 420.1 2039.3 414.3 2044.5 410.3C2050.5 405.7 2056.5 403.7 2062.5 400.1C2067.0 397.4 2071.5 394.4 2076.0 391.8C2080.5 389.2 2085.0 387.2 2089.5 384.4C2093.3 382.0 2097.0 378.9 2100.8 376.5C2105.3 373.6 2109.8 370.9 2114.3 368.6C2118.8 366.3 2123.3 364.3 2127.8 362.6C2132.3 360.9 2136.8 360.1 2141.3 358.5C2145.0 357.2 2148.8 356.2 2152.5 354.0C2155.5 352.2 2158.5 350.7 2161.5 347.3C2164.5 343.9 2167.5 338.3 2170.5 333.8C2172.8 330.4 2175.0 327.0 2177.3 323.6" fill="none" stroke="#f23645" stroke-width="1.7" stroke-linejoin="round" stroke-linecap="round"/>
<path d="M17 131.9H2426.2" stroke="#e4806f" stroke-opacity="0.85" stroke-width="1.8" stroke-dasharray="1.2 1.6" fill="none"/>
<path d="M21.35 1158.3V1250.5M29.11 1161.6V1210.0M36.86 1126.8V1175.1M44.62 1142.1V1185.7M52.38 1137.6V1178.5M60.14 1078.4V1146.6M67.9 1095.3V1175.1M75.66 1126.3V1165.5M83.42 1123.4V1157.1M91.17 1113.7V1184.1M98.93 1112.1V1143.6M106.69 1127.9V1192.5M114.45 1139.1V1171.1M122.21 1154.2V1196.5M129.97 1175.1V1189.8M137.73 1117.8V1180.8M145.48 1126.3V1158.7M153.24 1095.3V1151.5M161.0 963.6V1120.0M168.76 969.9V1021.0M176.52 985.0V1031.1M184.28 960.9V1026.6M192.04 1003.0V1051.8M199.8 989.1V1087.8M207.55 1054.1V1087.4M215.31 1046.4V1081.1M223.07 1061.5V1104.3M230.83 1058.6V1089.2M238.59 1044.2V1072.3M246.35 1044.2V1076.1M254.11 1038.6V1073.4M261.86 1045.1V1085.6M269.62 1034.1V1091.2M277.38 1021.0V1063.3M285.14 815.3V1033.4M292.9 652.2V866.4M300.66 704.4V783.8M308.42 733.6V823.6M316.17 715.6V860.8M323.93 767.4V1120.0M331.69 982.8V1194.3M339.45 917.5V1109.9M347.21 976.0V1055.9M354.97 960.9V1072.3M362.73 801.1V1066.7M370.48 667.9V949.5M378.24 724.2V881.0M386.0 746.7V831.5M393.76 721.7V920.9M401.52 817.3V881.0M409.28 820.9V872.0M417.04 779.8V873.6M424.79 748.7V848.8M432.55 725.1V794.4M440.31 426.3V737.0M448.07 329.8V526.0M455.83 416.9V599.8M463.59 388.1V562.5M471.35 368.1V470.4M479.1 396.2V503.1M486.86 380.4V720.1M494.62 544.0V668.4M502.38 534.3V612.7M510.14 577.8V654.4M517.9 594.7V695.4M525.66 656.0V806.3M533.41 678.1V734.1M541.17 695.4V752.8M548.93 716.5V772.7M556.69 737.4V801.5M564.45 657.5V745.7M572.21 629.4V696.9M579.97 462.3V665.4M587.73 468.0V550.0M595.48 474.3V550.0M603.24 469.8V536.7M611.0 445.0V586.6M618.76 524.9V560.3M626.52 550.3V622.6M634.28 538.4V610.3M642.04 495.2V565.9M649.79 508.6V560.3M657.55 514.0V550.0M665.31 515.8V582.6M673.07 487.8V543.9M680.83 463.0V528.6M688.59 497.9V562.3M696.35 542.8V610.9M704.1 558.1V718.7M711.86 591.6V670.3M719.62 626.7V664.3M727.38 561.9V636.6M735.14 584.4V645.6M742.9 620.4V689.0M750.66 644.5V696.4M758.41 655.3V781.7M766.17 716.0V780.2M773.93 700.9V760.6M781.69 599.0V708.6M789.45 622.0V667.2M797.21 647.4V735.8M804.97 645.6V696.4M812.72 626.7V692.4M820.48 636.1V673.7M828.24 620.4V652.3M836.0 601.1V656.3M843.76 629.5V671.4M851.52 648.2V704.1M859.28 655.7V696.8M867.03 691.1V765.3M874.79 717.0V774.3M882.55 761.9V955.4M890.31 853.7V900.3M898.07 868.1V914.2M905.83 864.3V907.5M913.59 878.4V950.2M921.35 939.6V1009.4M929.1 903.6V978.4M936.86 923.4V986.9M944.62 931.1V980.2M952.38 927.9V991.4M960.14 909.3V947.5M967.9 884.1V965.1M975.66 898.0V926.6M983.41 899.8V930.0M991.17 899.1V958.3M998.93 919.4V970.0M1006.69 952.0V972.7M1014.45 927.3V979.5M1022.21 894.2V968.9M1029.97 775.4V949.1M1037.72 806.9V876.6M1045.48 781.5V860.2M1053.24 788.4V859.8M1061.0 824.4V872.1M1068.76 824.4V854.8M1076.52 806.9V853.5M1084.28 827.6V976.3M1092.03 895.3V970.7M1099.79 876.6V945.3M1107.55 881.8V917.1M1115.31 895.8V916.0M1123.07 893.2V943.0M1130.83 934.1V957.3M1138.59 916.8V955.0M1146.34 934.7V993.2M1154.1 884.8V946.0M1161.86 878.1V920.8M1169.62 863.9V894.3M1177.38 873.3V903.7M1185.14 884.8V917.2M1192.9 888.6V926.9M1200.65 884.6V920.6M1208.41 906.2V934.3M1216.17 891.4V937.0M1223.93 891.6V934.3M1231.69 818.2V917.5M1239.45 757.7V856.5M1247.21 794.6V825.2M1254.96 781.3V813.7M1262.72 786.9V858.3M1270.48 822.9V863.9M1278.24 832.8V854.9M1286.0 848.6V883.7M1293.76 831.3V876.3M1301.52 823.4V855.6M1309.28 781.3V830.1M1317.03 784.0V831.9M1324.79 770.1V845.9M1332.55 794.1V833.5M1340.31 816.2V850.8M1348.07 817.8V844.3M1355.83 587.0V840.3M1363.59 623.9V688.4M1371.34 672.6V708.2M1379.1 684.6V743.1M1386.86 712.0V751.4M1394.62 727.8V865.7M1402.38 786.9V805.4M1410.14 780.6V823.8M1417.9 805.0V819.8M1425.65 809.0V843.2M1433.41 795.5V822.5M1441.17 780.4V818.7M1448.93 781.3V809.5M1456.69 799.3V843.2M1464.45 792.1V829.3M1472.21 757.3V800.0M1479.96 714.1V779.8M1487.72 678.1V732.1M1495.48 670.6V756.6M1503.24 728.0V764.5M1511.0 729.8V752.1M1518.76 693.8V757.7M1526.52 713.4V753.2M1534.27 730.7V761.3M1542.03 716.8V749.4M1549.79 725.8V810.1M1557.55 735.4V783.1M1565.31 755.0V797.8M1573.07 780.2V815.8M1580.83 785.8V823.6M1588.58 789.2V814.6M1596.34 761.1V803.8M1604.1 763.3V795.5M1611.86 720.1V795.5M1619.62 710.0V790.6M1627.38 672.4V758.8M1635.14 711.1V768.1M1642.89 714.1V747.1M1650.65 729.8V771.9M1658.41 725.1V871.6M1666.17 788.1V837.6M1673.93 766.3V807.9M1681.69 786.5V829.3M1689.45 767.4V815.8M1697.21 801.1V822.5M1704.96 774.8V811.7M1712.72 786.5V807.4M1720.48 791.0V846.8M1728.24 809.7V842.8M1736.0 799.3V834.4M1743.76 825.9V841.2M1751.52 822.1V907.6M1759.27 769.2V888.9M1767.03 728.0V799.3M1774.79 730.7V760.6M1782.55 716.8V803.4M1790.31 724.2V865.7M1798.07 757.9V779.1M1805.83 730.7V772.6M1813.58 747.8V782.5M1821.34 765.6V811.3M1829.1 749.4V796.6M1836.86 741.1V772.6M1844.62 712.9V764.0M1852.38 718.3V808.6M1860.14 782.7V798.9M1867.89 769.0V793.3M1875.65 773.0V823.6M1883.41 793.3V818.7M1891.17 738.1V815.8M1898.93 485.6V766.3M1906.69 395.2V549.8M1914.45 266.1V480.7M1922.2 191.6V294.6M1929.96 229.4V341.9M1937.72 214.3V331.3M1945.48 267.0V311.5M1953.24 244.0V324.6M1961.0 230.1V290.1M1968.76 136.0V269.2M1976.51 140.1V191.6M1984.27 156.3V250.8M1992.03 205.8V367.1M1999.79 200.1V269.9M2007.55 209.6V248.5M2015.31 176.5V331.8M2023.07 184.4V308.6M2030.82 248.1V341.9M2038.58 232.1V286.3M2046.34 244.0V312.6M2054.1 284.5V349.1M2061.86 282.7V400.4M2069.62 292.4V317.1M2077.38 274.4V311.5M2085.14 265.4V302.1M2092.89 247.4V309.7M2100.65 222.6V273.7M2108.41 248.1V278.9M2116.17 265.4V309.7M2123.93 275.1V313.3M2131.69 268.8V308.6M2139.45 269.2V339.6M2147.2 285.0V330.6M2154.96 269.9V298.5M2162.72 183.3V281.8M2170.48 110.1V203.5M2178.24 110.8V134.9" stroke="#918c88" stroke-width="1.15" fill="none"/>
<g fill="#6eaa87" stroke="#1f6040" stroke-width="0.85"><rect x="18.60" y="1210.4" width="5.5" height="34.1"/><rect x="26.36" y="1176.7" width="5.5" height="32.9"/><rect x="34.11" y="1156.9" width="5.5" height="17.8"/><rect x="41.87" y="1157.5" width="5.5" height="0.6"/><rect x="49.63" y="1144.0" width="5.5" height="12.7"/><rect x="57.39" y="1105.1" width="5.5" height="37.7"/><rect x="72.91" y="1135.5" width="5.5" height="5.5"/><rect x="88.42" y="1133.5" width="5.5" height="16.9"/><rect x="96.18" y="1132.8" width="5.5" height="0.8"/><rect x="127.22" y="1180.0" width="5.5" height="0.6"/><rect x="134.98" y="1136.2" width="5.5" height="43.7"/><rect x="150.49" y="1111.9" width="5.5" height="25.7"/><rect x="158.25" y="1009.7" width="5.5" height="101.4"/><rect x="173.77" y="989.9" width="5.5" height="17.9"/><rect x="204.80" y="1070.5" width="5.5" height="2.3"/><rect x="212.56" y="1063.7" width="5.5" height="6.0"/><rect x="228.08" y="1061.9" width="5.5" height="6.0"/><rect x="235.84" y="1051.8" width="5.5" height="9.3"/><rect x="251.36" y="1054.7" width="5.5" height="14.3"/><rect x="266.87" y="1053.6" width="5.5" height="19.2"/><rect x="274.63" y="1032.0" width="5.5" height="20.8"/><rect x="282.39" y="854.4" width="5.5" height="176.8"/><rect x="290.15" y="746.4" width="5.5" height="106.5"/><rect x="297.91" y="736.7" width="5.5" height="8.9"/><rect x="313.42" y="776.3" width="5.5" height="27.8"/><rect x="336.70" y="977.5" width="5.5" height="116.7"/><rect x="359.98" y="816.8" width="5.5" height="209.9"/><rect x="375.49" y="753.8" width="5.5" height="122.3"/><rect x="398.77" y="839.8" width="5.5" height="37.5"/><rect x="414.29" y="802.7" width="5.5" height="56.5"/><rect x="422.04" y="782.9" width="5.5" height="19.0"/><rect x="429.80" y="730.0" width="5.5" height="52.1"/><rect x="437.56" y="462.7" width="5.5" height="266.5"/><rect x="445.32" y="447.7" width="5.5" height="14.2"/><rect x="460.84" y="412.1" width="5.5" height="143.9"/><rect x="491.87" y="603.6" width="5.5" height="47.5"/><rect x="499.63" y="588.8" width="5.5" height="14.0"/><rect x="530.66" y="697.6" width="5.5" height="23.7"/><rect x="553.94" y="745.7" width="5.5" height="12.2"/><rect x="561.70" y="682.7" width="5.5" height="62.2"/><rect x="569.46" y="657.2" width="5.5" height="24.7"/><rect x="577.22" y="480.7" width="5.5" height="175.7"/><rect x="600.49" y="474.7" width="5.5" height="46.3"/><rect x="631.53" y="549.9" width="5.5" height="39.0"/><rect x="639.29" y="523.6" width="5.5" height="25.5"/><rect x="662.56" y="531.5" width="5.5" height="9.3"/><rect x="670.32" y="499.4" width="5.5" height="30.1"/><rect x="709.11" y="630.9" width="5.5" height="13.2"/><rect x="724.63" y="597.8" width="5.5" height="34.1"/><rect x="747.91" y="657.9" width="5.5" height="10.9"/><rect x="771.18" y="703.4" width="5.5" height="45.3"/><rect x="778.94" y="646.0" width="5.5" height="55.7"/><rect x="802.22" y="683.8" width="5.5" height="2.1"/><rect x="809.97" y="665.8" width="5.5" height="17.2"/><rect x="817.73" y="646.0" width="5.5" height="19.7"/><rect x="825.49" y="623.5" width="5.5" height="21.7"/><rect x="903.08" y="897.7" width="5.5" height="5.1"/><rect x="926.35" y="931.5" width="5.5" height="33.2"/><rect x="941.87" y="966.4" width="5.5" height="3.9"/><rect x="949.63" y="947.5" width="5.5" height="18.1"/><rect x="957.39" y="931.5" width="5.5" height="14.5"/><rect x="965.15" y="911.9" width="5.5" height="18.8"/><rect x="980.66" y="915.7" width="5.5" height="2.2"/><rect x="1003.94" y="958.7" width="5.5" height="9.4"/><rect x="1011.70" y="935.1" width="5.5" height="22.8"/><rect x="1019.46" y="932.2" width="5.5" height="2.5"/><rect x="1027.22" y="819.7" width="5.5" height="112.3"/><rect x="1042.73" y="792.7" width="5.5" height="60.4"/><rect x="1073.77" y="835.0" width="5.5" height="9.3"/><rect x="1089.28" y="929.9" width="5.5" height="19.5"/><rect x="1097.04" y="895.7" width="5.5" height="33.4"/><rect x="1143.59" y="945.7" width="5.5" height="4.8"/><rect x="1151.35" y="905.9" width="5.5" height="39.1"/><rect x="1159.11" y="891.8" width="5.5" height="14.5"/><rect x="1166.87" y="881.6" width="5.5" height="9.4"/><rect x="1190.15" y="905.3" width="5.5" height="10.6"/><rect x="1213.42" y="916.5" width="5.5" height="6.6"/><rect x="1221.18" y="904.1" width="5.5" height="11.8"/><rect x="1228.94" y="852.6" width="5.5" height="50.7"/><rect x="1236.70" y="800.8" width="5.5" height="51.0"/><rect x="1252.21" y="799.7" width="5.5" height="9.8"/><rect x="1267.73" y="835.7" width="5.5" height="3.5"/><rect x="1291.01" y="845.6" width="5.5" height="25.1"/><rect x="1298.77" y="827.2" width="5.5" height="17.2"/><rect x="1306.53" y="789.6" width="5.5" height="36.8"/><rect x="1329.80" y="820.9" width="5.5" height="2.1"/><rect x="1353.08" y="671.8" width="5.5" height="165.1"/><rect x="1384.11" y="734.2" width="5.5" height="1.0"/><rect x="1430.66" y="812.8" width="5.5" height="6.4"/><rect x="1438.42" y="797.5" width="5.5" height="14.9"/><rect x="1461.70" y="798.2" width="5.5" height="25.0"/><rect x="1469.46" y="776.8" width="5.5" height="21.7"/><rect x="1477.21" y="715.6" width="5.5" height="60.4"/><rect x="1484.97" y="715.4" width="5.5" height="0.6"/><rect x="1508.25" y="736.3" width="5.5" height="3.0"/><rect x="1516.01" y="715.6" width="5.5" height="19.9"/><rect x="1531.52" y="742.6" width="5.5" height="0.6"/><rect x="1539.28" y="741.2" width="5.5" height="1.0"/><rect x="1554.80" y="764.4" width="5.5" height="14.5"/><rect x="1585.83" y="796.6" width="5.5" height="14.9"/><rect x="1593.59" y="775.7" width="5.5" height="20.1"/><rect x="1609.11" y="734.5" width="5.5" height="49.4"/><rect x="1624.63" y="739.0" width="5.5" height="4.8"/><rect x="1632.39" y="731.8" width="5.5" height="6.4"/><rect x="1663.42" y="797.5" width="5.5" height="13.4"/><rect x="1678.94" y="793.7" width="5.5" height="13.1"/><rect x="1694.46" y="807.6" width="5.5" height="5.5"/><rect x="1702.21" y="794.3" width="5.5" height="12.5"/><rect x="1756.52" y="799.7" width="5.5" height="75.8"/><rect x="1764.28" y="750.9" width="5.5" height="47.6"/><rect x="1772.04" y="749.1" width="5.5" height="0.6"/><rect x="1787.56" y="778.6" width="5.5" height="19.4"/><rect x="1795.32" y="771.8" width="5.5" height="6.0"/><rect x="1803.08" y="749.1" width="5.5" height="21.9"/><rect x="1826.35" y="768.2" width="5.5" height="25.8"/><rect x="1834.11" y="757.0" width="5.5" height="9.3"/><rect x="1841.87" y="725.7" width="5.5" height="30.5"/><rect x="1865.14" y="782.0" width="5.5" height="10.2"/><rect x="1888.42" y="755.9" width="5.5" height="55.4"/><rect x="1896.18" y="549.7" width="5.5" height="205.4"/><rect x="1903.94" y="441.7" width="5.5" height="107.2"/><rect x="1911.70" y="274.8" width="5.5" height="166.1"/><rect x="1919.45" y="230.5" width="5.5" height="43.5"/><rect x="1950.49" y="259.7" width="5.5" height="49.2"/><rect x="1958.25" y="244.9" width="5.5" height="14.0"/><rect x="1966.01" y="186.6" width="5.5" height="57.5"/><rect x="1973.76" y="178.0" width="5.5" height="7.8"/><rect x="1997.04" y="214.7" width="5.5" height="45.3"/><rect x="2012.56" y="188.6" width="5.5" height="45.3"/><rect x="2028.07" y="275.9" width="5.5" height="24.6"/><rect x="2035.83" y="254.5" width="5.5" height="20.6"/><rect x="2059.11" y="304.0" width="5.5" height="34.1"/><rect x="2074.63" y="282.7" width="5.5" height="27.3"/><rect x="2090.14" y="264.7" width="5.5" height="32.2"/><rect x="2097.90" y="255.2" width="5.5" height="8.7"/><rect x="2121.18" y="279.7" width="5.5" height="13.4"/><rect x="2144.45" y="289.9" width="5.5" height="30.2"/><rect x="2152.21" y="279.7" width="5.5" height="9.4"/><rect x="2159.97" y="201.0" width="5.5" height="77.9"/><rect x="2167.73" y="130.8" width="5.5" height="69.4"/></g>
<g fill="#de5542" stroke="#7c1c12" stroke-width="0.85"><rect x="65.15" y="1104.7" width="5.5" height="36.3"/><rect x="80.67" y="1135.5" width="5.5" height="14.9"/><rect x="103.94" y="1131.7" width="5.5" height="23.2"/><rect x="111.70" y="1156.0" width="5.5" height="7.9"/><rect x="119.46" y="1163.6" width="5.5" height="16.8"/><rect x="142.73" y="1135.7" width="5.5" height="2.4"/><rect x="166.01" y="1007.5" width="5.5" height="0.6"/><rect x="181.53" y="989.5" width="5.5" height="22.8"/><rect x="189.29" y="1013.1" width="5.5" height="0.8"/><rect x="197.05" y="1015.1" width="5.5" height="57.7"/><rect x="220.32" y="1063.7" width="5.5" height="4.2"/><rect x="243.60" y="1050.7" width="5.5" height="18.3"/><rect x="259.11" y="1054.7" width="5.5" height="18.1"/><rect x="305.67" y="736.3" width="5.5" height="67.8"/><rect x="321.18" y="776.3" width="5.5" height="237.6"/><rect x="328.94" y="1014.7" width="5.5" height="80.2"/><rect x="344.46" y="977.5" width="5.5" height="44.2"/><rect x="352.22" y="1021.9" width="5.5" height="4.8"/><rect x="367.73" y="816.8" width="5.5" height="59.3"/><rect x="383.25" y="753.8" width="5.5" height="29.4"/><rect x="391.01" y="782.9" width="5.5" height="96.2"/><rect x="406.53" y="838.7" width="5.5" height="20.5"/><rect x="453.08" y="447.7" width="5.5" height="109.4"/><rect x="468.60" y="412.1" width="5.5" height="4.8"/><rect x="476.35" y="417.7" width="5.5" height="19.0"/><rect x="484.11" y="437.5" width="5.5" height="213.6"/><rect x="507.39" y="588.8" width="5.5" height="23.5"/><rect x="515.15" y="613.1" width="5.5" height="46.3"/><rect x="522.91" y="659.1" width="5.5" height="62.2"/><rect x="538.42" y="697.6" width="5.5" height="31.1"/><rect x="546.18" y="728.3" width="5.5" height="27.4"/><rect x="584.98" y="480.7" width="5.5" height="16.1"/><rect x="592.73" y="496.7" width="5.5" height="25.4"/><rect x="608.25" y="474.0" width="5.5" height="54.4"/><rect x="616.01" y="529.7" width="5.5" height="21.2"/><rect x="623.77" y="551.7" width="5.5" height="37.2"/><rect x="647.04" y="523.6" width="5.5" height="13.1"/><rect x="654.80" y="536.9" width="5.5" height="3.9"/><rect x="678.08" y="498.7" width="5.5" height="7.7"/><rect x="685.84" y="507.8" width="5.5" height="39.5"/><rect x="693.60" y="548.1" width="5.5" height="30.9"/><rect x="701.35" y="580.3" width="5.5" height="63.8"/><rect x="716.87" y="630.9" width="5.5" height="1.0"/><rect x="732.39" y="597.8" width="5.5" height="24.0"/><rect x="740.15" y="623.0" width="5.5" height="45.8"/><rect x="755.66" y="657.2" width="5.5" height="75.3"/><rect x="763.42" y="733.3" width="5.5" height="14.5"/><rect x="786.70" y="644.0" width="5.5" height="14.2"/><rect x="794.46" y="657.2" width="5.5" height="26.9"/><rect x="833.25" y="623.5" width="5.5" height="5.6"/><rect x="841.01" y="629.9" width="5.5" height="38.0"/><rect x="848.77" y="668.2" width="5.5" height="0.6"/><rect x="856.53" y="669.4" width="5.5" height="26.6"/><rect x="864.28" y="695.7" width="5.5" height="48.3"/><rect x="872.04" y="746.4" width="5.5" height="22.5"/><rect x="879.80" y="770.2" width="5.5" height="82.9"/><rect x="887.56" y="854.5" width="5.5" height="18.8"/><rect x="895.32" y="875.2" width="5.5" height="27.6"/><rect x="910.84" y="897.7" width="5.5" height="49.4"/><rect x="918.60" y="946.8" width="5.5" height="17.9"/><rect x="934.11" y="931.5" width="5.5" height="38.8"/><rect x="972.91" y="912.6" width="5.5" height="5.3"/><rect x="988.42" y="915.7" width="5.5" height="29.2"/><rect x="996.18" y="945.7" width="5.5" height="23.5"/><rect x="1034.97" y="819.7" width="5.5" height="32.5"/><rect x="1050.49" y="792.7" width="5.5" height="37.4"/><rect x="1058.25" y="830.9" width="5.5" height="5.3"/><rect x="1066.01" y="836.5" width="5.5" height="7.8"/><rect x="1081.53" y="835.9" width="5.5" height="113.5"/><rect x="1104.80" y="895.7" width="5.5" height="6.0"/><rect x="1112.56" y="902.5" width="5.5" height="6.4"/><rect x="1120.32" y="911.1" width="5.5" height="27.8"/><rect x="1128.08" y="939.7" width="5.5" height="4.1"/><rect x="1135.84" y="944.6" width="5.5" height="6.7"/><rect x="1174.63" y="881.6" width="5.5" height="11.2"/><rect x="1182.39" y="894.0" width="5.5" height="21.9"/><rect x="1197.90" y="905.3" width="5.5" height="6.6"/><rect x="1205.66" y="912.7" width="5.5" height="9.3"/><rect x="1244.46" y="801.7" width="5.5" height="7.8"/><rect x="1259.97" y="799.0" width="5.5" height="39.7"/><rect x="1275.49" y="835.0" width="5.5" height="16.1"/><rect x="1283.25" y="851.9" width="5.5" height="17.9"/><rect x="1314.28" y="789.6" width="5.5" height="9.3"/><rect x="1322.04" y="799.0" width="5.5" height="24.0"/><rect x="1337.56" y="820.9" width="5.5" height="3.9"/><rect x="1345.32" y="825.6" width="5.5" height="11.3"/><rect x="1360.84" y="672.4" width="5.5" height="3.7"/><rect x="1368.59" y="676.9" width="5.5" height="15.1"/><rect x="1376.35" y="692.8" width="5.5" height="42.4"/><rect x="1391.87" y="735.4" width="5.5" height="51.6"/><rect x="1399.63" y="787.8" width="5.5" height="9.3"/><rect x="1407.39" y="797.9" width="5.5" height="11.6"/><rect x="1415.15" y="811.7" width="5.5" height="3.7"/><rect x="1422.90" y="815.7" width="5.5" height="3.5"/><rect x="1446.18" y="797.5" width="5.5" height="3.7"/><rect x="1453.94" y="802.0" width="5.5" height="20.1"/><rect x="1492.73" y="715.6" width="5.5" height="18.1"/><rect x="1500.49" y="734.5" width="5.5" height="5.5"/><rect x="1523.77" y="715.6" width="5.5" height="27.3"/><rect x="1547.04" y="740.8" width="5.5" height="38.1"/><rect x="1562.56" y="763.7" width="5.5" height="18.4"/><rect x="1570.32" y="782.9" width="5.5" height="13.3"/><rect x="1578.08" y="797.5" width="5.5" height="14.0"/><rect x="1601.35" y="775.7" width="5.5" height="8.2"/><rect x="1616.87" y="734.5" width="5.5" height="9.3"/><rect x="1640.14" y="731.3" width="5.5" height="0.8"/><rect x="1647.90" y="733.6" width="5.5" height="18.3"/><rect x="1655.66" y="753.2" width="5.5" height="57.7"/><rect x="1671.18" y="797.5" width="5.5" height="9.3"/><rect x="1686.70" y="794.3" width="5.5" height="18.8"/><rect x="1709.97" y="795.5" width="5.5" height="8.6"/><rect x="1717.73" y="804.9" width="5.5" height="9.3"/><rect x="1725.49" y="815.5" width="5.5" height="5.5"/><rect x="1733.25" y="821.8" width="5.5" height="6.4"/><rect x="1741.01" y="829.0" width="5.5" height="2.1"/><rect x="1748.77" y="831.9" width="5.5" height="43.6"/><rect x="1779.80" y="749.3" width="5.5" height="48.1"/><rect x="1810.83" y="749.1" width="5.5" height="32.5"/><rect x="1818.59" y="782.4" width="5.5" height="10.5"/><rect x="1849.63" y="725.7" width="5.5" height="65.6"/><rect x="1857.39" y="791.9" width="5.5" height="0.6"/><rect x="1872.90" y="781.3" width="5.5" height="20.6"/><rect x="1880.66" y="802.7" width="5.5" height="8.6"/><rect x="1927.21" y="230.5" width="5.5" height="22.1"/><rect x="1934.97" y="253.4" width="5.5" height="36.8"/><rect x="1942.73" y="291.0" width="5.5" height="17.2"/><rect x="1981.52" y="179.2" width="5.5" height="54.7"/><rect x="1989.28" y="234.7" width="5.5" height="25.3"/><rect x="2004.80" y="214.7" width="5.5" height="20.4"/><rect x="2020.32" y="188.6" width="5.5" height="111.9"/><rect x="2043.59" y="254.5" width="5.5" height="46.0"/><rect x="2051.35" y="301.3" width="5.5" height="36.8"/><rect x="2066.87" y="304.0" width="5.5" height="6.0"/><rect x="2082.39" y="282.7" width="5.5" height="14.2"/><rect x="2105.66" y="255.2" width="5.5" height="12.5"/><rect x="2113.42" y="268.5" width="5.5" height="24.6"/><rect x="2128.94" y="279.7" width="5.5" height="15.2"/><rect x="2136.70" y="296.6" width="5.5" height="23.5"/><rect x="2175.49" y="130.8" width="5.5" height="0.6"/></g>
<rect x="0" y="46" width="17" height="1316" fill="#1e1e1e"/>
<g font-family="Liberation Sans, Arial, sans-serif" font-size="20" fill="#66615c" stroke="#66615c" stroke-width="0.25">
<text x="2441.5" y="122.5" textLength="76" lengthAdjust="spacingAndGlyphs">3.60000</text>
<text x="2441.5" y="187.0" textLength="76" lengthAdjust="spacingAndGlyphs">3.00000</text>
<text x="2441.5" y="237.5" textLength="76" lengthAdjust="spacingAndGlyphs">2.60000</text>
<text x="2441.5" y="296.6" textLength="76" lengthAdjust="spacingAndGlyphs">2.20000</text>
<text x="2441.5" y="348.4" textLength="76" lengthAdjust="spacingAndGlyphs">1.90000</text>
<text x="2441.5" y="409.1" textLength="76" lengthAdjust="spacingAndGlyphs">1.60000</text>
<text x="2441.5" y="482.5" textLength="76" lengthAdjust="spacingAndGlyphs">1.30000</text>
<text x="2441.5" y="541.5" textLength="76" lengthAdjust="spacingAndGlyphs">1.10000</text>
<text x="2441.5" y="593.3" textLength="76" lengthAdjust="spacingAndGlyphs">0.95000</text>
<text x="2441.5" y="654.1" textLength="76" lengthAdjust="spacingAndGlyphs">0.80000</text>
<text x="2441.5" y="727.4" textLength="76" lengthAdjust="spacingAndGlyphs">0.65000</text>
<text x="2441.5" y="786.5" textLength="76" lengthAdjust="spacingAndGlyphs">0.55000</text>
<text x="2441.5" y="842.0" textLength="76" lengthAdjust="spacingAndGlyphs">0.47000</text>
<text x="2441.5" y="890.3" textLength="76" lengthAdjust="spacingAndGlyphs">0.41000</text>
<text x="2441.5" y="946.2" textLength="76" lengthAdjust="spacingAndGlyphs">0.35000</text>
<text x="2441.5" y="1000.7" textLength="76" lengthAdjust="spacingAndGlyphs">0.30000</text>
<text x="2441.5" y="1051.3" textLength="76" lengthAdjust="spacingAndGlyphs">0.26000</text>
<text x="2441.5" y="1110.3" textLength="76" lengthAdjust="spacingAndGlyphs">0.22000</text>
<text x="2441.5" y="1162.1" textLength="76" lengthAdjust="spacingAndGlyphs">0.19000</text>
<text x="2441.5" y="1212.0" textLength="76" lengthAdjust="spacingAndGlyphs">0.16500</text>
<text x="2441.5" y="1262.5" textLength="76" lengthAdjust="spacingAndGlyphs">0.14300</text>
<text x="2441.5" y="1310.1" textLength="76" lengthAdjust="spacingAndGlyphs">0.12500</text>
</g>
<text font-family="Liberation Sans, Arial, sans-serif" font-size="19" fill="#625e5a" x="125.6" y="1345.7" textLength="23.7" lengthAdjust="spacingAndGlyphs">Jul</text>
<text font-family="Liberation Sans, Arial, sans-serif" font-size="19" font-weight="bold" fill="#524e4b" x="313.9" y="1345.7" letter-spacing="0.8" textLength="50.3" lengthAdjust="spacingAndGlyphs">2021</text>
<text font-family="Liberation Sans, Arial, sans-serif" font-size="19" fill="#625e5a" x="529.1" y="1345.7" textLength="23.7" lengthAdjust="spacingAndGlyphs">Jul</text>
<text font-family="Liberation Sans, Arial, sans-serif" font-size="19" font-weight="bold" fill="#524e4b" x="717.4" y="1345.7" letter-spacing="0.8" textLength="50.3" lengthAdjust="spacingAndGlyphs">2022</text>
<text font-family="Liberation Sans, Arial, sans-serif" font-size="19" fill="#625e5a" x="932.5" y="1345.7" textLength="23.7" lengthAdjust="spacingAndGlyphs">Jul</text>
<text font-family="Liberation Sans, Arial, sans-serif" font-size="19" font-weight="bold" fill="#524e4b" x="1120.8" y="1345.7" letter-spacing="0.8" textLength="50.3" lengthAdjust="spacingAndGlyphs">2023</text>
<text font-family="Liberation Sans, Arial, sans-serif" font-size="19" fill="#625e5a" x="1336.0" y="1345.7" textLength="23.7" lengthAdjust="spacingAndGlyphs">Jul</text>
<text font-family="Liberation Sans, Arial, sans-serif" font-size="19" font-weight="bold" fill="#524e4b" x="1524.3" y="1345.7" letter-spacing="0.8" textLength="50.3" lengthAdjust="spacingAndGlyphs">2024</text>
<text font-family="Liberation Sans, Arial, sans-serif" font-size="19" fill="#625e5a" x="1739.4" y="1345.7" textLength="23.7" lengthAdjust="spacingAndGlyphs">Jul</text>
<text font-family="Liberation Sans, Arial, sans-serif" font-size="19" font-weight="bold" fill="#524e4b" x="1935.5" y="1345.7" letter-spacing="0.8" textLength="50.3" lengthAdjust="spacingAndGlyphs">2025</text>
<text font-family="Liberation Sans, Arial, sans-serif" font-size="19" fill="#625e5a" x="2150.6" y="1345.7" textLength="23.7" lengthAdjust="spacingAndGlyphs">Jul</text>
<text font-family="Liberation Sans, Arial, sans-serif" font-size="19" font-weight="bold" fill="#524e4b" x="2338.9" y="1345.7" letter-spacing="0.8" textLength="50.3" lengthAdjust="spacingAndGlyphs">2026</text>
<rect x="2432" y="52.9" width="106.7" height="42.9" rx="6" fill="#ffffff"/>
<text font-family="Liberation Sans, Arial, sans-serif" font-size="20.5" fill="#1a1a1a" stroke="#1a1a1a" stroke-width="0.3" x="2448.2" y="80.8" textLength="42" lengthAdjust="spacingAndGlyphs">USD</text>
<rect x="2335.8" y="118.5" width="92" height="27.2" rx="3" fill="#d85443"/>
<path d="M2426 118.5H2522a4 4 0 0 1 4 4V163a4 4 0 0 1 -4 4H2426Z" fill="#d85443"/>
<text font-family="Liberation Sans, Arial, sans-serif" font-size="18.5" fill="#ffffff" x="2344" y="137.9" textLength="73.3" lengthAdjust="spacingAndGlyphs">XRPUSD</text>
<text font-family="Liberation Sans, Arial, sans-serif" font-size="19" fill="#ffffff" x="2442.2" y="138" textLength="75" lengthAdjust="spacingAndGlyphs">3.44579</text>
<text font-family="Liberation Sans, Arial, sans-serif" font-size="19" fill="#f6d9d3" x="2442.2" y="159.6" textLength="62.2" lengthAdjust="spacingAndGlyphs">4d 13h</text>
<path d="M2426.2 46V1362M17 1315.5H2543" stroke="#827d78" stroke-width="1.6" fill="none"/>
<text font-family="Liberation Sans, Arial, sans-serif" font-size="20" fill="#e4e4e4" x="16.8" y="34" textLength="651.2" lengthAdjust="spacing" stroke="#e4e4e4" stroke-width="0.25">bitcoinwallah created with TradingView.com, Jul 23, 2025 11:09 UTC</text>
<text font-family="Liberation Sans, Arial, sans-serif" font-size="20" fill="#504d4b" stroke="#504d4b" stroke-width="0.3" x="30.5" y="80" textLength="320.5" lengthAdjust="spacingAndGlyphs" xml:space="preserve">XRP / U.S. Dollar · 1W · BITSTAMP</text>
<text font-family="Liberation Sans, Arial, sans-serif" font-size="20" fill="#504d4b" stroke="#504d4b" stroke-width="0.3" x="364.5" y="80" textLength="15.5" lengthAdjust="spacingAndGlyphs" xml:space="preserve">O</text>
<text font-family="Liberation Sans, Arial, sans-serif" font-size="20" fill="#6b201b" stroke="#6b201b" stroke-width="0.3" x="381.2" y="80" textLength="78.3" lengthAdjust="spacingAndGlyphs" xml:space="preserve">3.45305</text>
<text font-family="Liberation Sans, Arial, sans-serif" font-size="20" fill="#504d4b" stroke="#504d4b" stroke-width="0.3" x="472.5" y="80" textLength="14.5" lengthAdjust="spacingAndGlyphs" xml:space="preserve">H</text>
<text font-family="Liberation Sans, Arial, sans-serif" font-size="20" fill="#6b201b" stroke="#6b201b" stroke-width="0.3" x="489.2" y="80" textLength="73.8" lengthAdjust="spacingAndGlyphs" xml:space="preserve">3.65216</text>
<text font-family="Liberation Sans, Arial, sans-serif" font-size="20" fill="#504d4b" stroke="#504d4b" stroke-width="0.3" x="577" y="80" textLength="11.0" lengthAdjust="spacingAndGlyphs" xml:space="preserve">L</text>
<text font-family="Liberation Sans, Arial, sans-serif" font-size="20" fill="#6b201b" stroke="#6b201b" stroke-width="0.3" x="590.7" y="80" textLength="73.5" lengthAdjust="spacingAndGlyphs" xml:space="preserve">3.40912</text>
<text font-family="Liberation Sans, Arial, sans-serif" font-size="20" fill="#504d4b" stroke="#504d4b" stroke-width="0.3" x="677.5" y="80" textLength="14.0" lengthAdjust="spacingAndGlyphs" xml:space="preserve">C</text>
<text font-family="Liberation Sans, Arial, sans-serif" font-size="20" fill="#6b201b" stroke="#6b201b" stroke-width="0.3" x="693" y="80" textLength="77.5" lengthAdjust="spacingAndGlyphs" xml:space="preserve">3.44579</text>
<text font-family="Liberation Sans, Arial, sans-serif" font-size="20" fill="#6b201b" stroke="#6b201b" stroke-width="0.3" x="783.7" y="80" textLength="84.5" lengthAdjust="spacingAndGlyphs" xml:space="preserve">−0.01145</text>
<text font-family="Liberation Sans, Arial, sans-serif" font-size="20" fill="#6b201b" stroke="#6b201b" stroke-width="0.3" x="877.5" y="80" textLength="86.7" lengthAdjust="spacingAndGlyphs" xml:space="preserve">(−0.33%)</text>
<text font-family="Liberation Sans, Arial, sans-serif" font-size="20" fill="#504d4b" stroke="#504d4b" stroke-width="0.3" x="30.5" y="109" textLength="149.5" lengthAdjust="spacingAndGlyphs" xml:space="preserve">EMA (50, close)</text>
<text font-family="Liberation Sans, Arial, sans-serif" font-size="20" fill="#f23645" stroke="#f23645" stroke-width="0.3" x="193.7" y="109" textLength="75.0" lengthAdjust="spacingAndGlyphs" xml:space="preserve">1.99977</text>
<text font-family="Liberation Sans, Arial, sans-serif" font-size="20" fill="#504d4b" stroke="#504d4b" stroke-width="0.3" x="30.5" y="138" textLength="162.0" lengthAdjust="spacingAndGlyphs" xml:space="preserve">EMA (200, close)</text>
<text font-family="Liberation Sans, Arial, sans-serif" font-size="20" fill="#2b2bff" stroke="#2b2bff" stroke-width="0.3" x="205.7" y="138" textLength="71.8" lengthAdjust="spacingAndGlyphs" xml:space="preserve">1.10297</text>
<text font-family="Liberation Sans, Arial, sans-serif" font-size="20" fill="#504d4b" stroke="#504d4b" stroke-width="0.3" x="30.5" y="167" textLength="85.5" lengthAdjust="spacingAndGlyphs" xml:space="preserve">Vol · XRP</text>
<text font-family="Liberation Sans, Arial, sans-serif" font-size="20" fill="#e5524d" stroke="#e5524d" stroke-width="0.3" x="129.5" y="167" textLength="73.0" lengthAdjust="spacingAndGlyphs" xml:space="preserve">59.79 M</text>
<g fill="#dedede"><path d="M17.1 1383.4H30V1399.8H23.3V1390H17.1Z"/><circle cx="36.1" cy="1386.9" r="3.5"/><path d="M41.8 1383.4H50L43.4 1399.8H35.6Z"/></g>
<text font-family="Liberation Sans, Arial, sans-serif" font-size="22.5" fill="#dedede" stroke="#dedede" stroke-width="0.35" x="56.2" y="1400.8" textLength="125.2" lengthAdjust="spacingAndGlyphs">TradingView</text>
</svg></body></html>
